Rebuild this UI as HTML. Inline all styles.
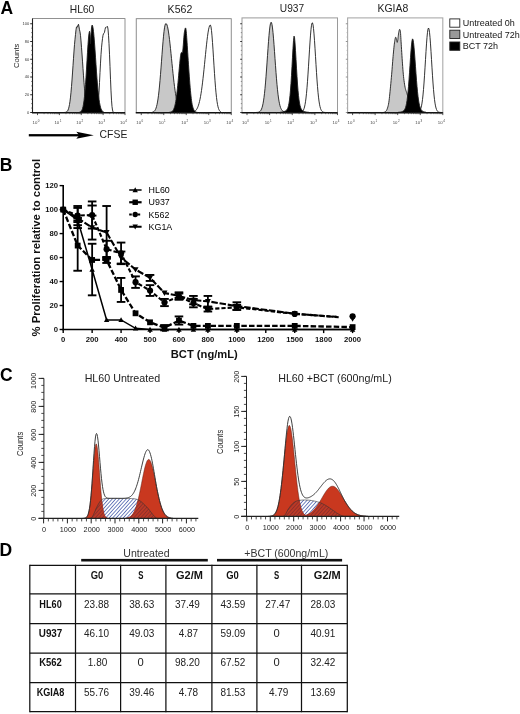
<!DOCTYPE html>
<html><head><meta charset="utf-8"><title>Figure</title>
<style>
html,body{margin:0;padding:0;background:#fff;}
svg{display:block;font-family:"Liberation Sans", sans-serif;will-change:transform;transform:translateZ(0);}
</style></head><body>
<svg width="520" height="714" viewBox="0 0 520 714">
<rect width="520" height="714" fill="#fff"/>
<rect x="32.5" y="18.6" width="92.5" height="93.9" fill="#fff" stroke="#777" stroke-width="0.8"/>
<path d="M94.00,112.50 L94.00,112.50 L94.50,112.50 L95.00,112.50 L95.50,112.49 L96.00,112.43 L96.50,112.21 L97.00,111.48 L97.50,109.67 L98.00,106.07 L98.50,100.18 L99.00,92.08 L99.50,82.48 L100.00,72.46 L100.50,63.13 L101.00,54.55 L101.50,47.84 L102.00,42.84 L102.50,38.67 L103.00,35.31 L103.50,33.69 L104.00,33.40 L104.50,32.27 L105.00,29.62 L105.50,27.46 L106.00,27.08 L106.50,27.14 L107.00,26.54 L107.50,26.54 L108.00,29.09 L108.50,35.26 L109.00,43.69 L109.50,54.23 L110.00,66.46 L110.50,79.21 L111.00,90.89 L111.50,100.17 L112.00,106.46 L112.50,110.03 L113.00,111.68 L113.50,112.29 L114.00,112.46 L114.50,112.49 L115.00,112.50 L115.50,112.50 L116.00,112.50 L116.00,112.50Z" fill="#fff" stroke="#1c1c1c" stroke-width="0.9" stroke-linejoin="round"/>
<path d="M64.00,112.50 L64.00,112.48 L64.50,112.46 L65.00,112.42 L65.50,112.34 L66.00,112.20 L66.50,111.97 L67.00,111.59 L67.50,111.00 L68.00,110.10 L68.50,108.78 L69.00,106.94 L69.50,104.45 L70.00,101.21 L70.50,97.14 L71.00,92.21 L71.50,86.46 L72.00,79.98 L72.50,72.97 L73.00,65.67 L73.50,58.29 L74.00,51.02 L74.50,44.50 L75.00,39.23 L75.50,34.49 L76.00,29.76 L76.50,26.88 L77.00,26.99 L77.50,27.03 L78.00,25.05 L78.50,24.29 L79.00,26.84 L79.50,29.79 L80.00,31.89 L80.50,35.33 L81.00,40.90 L81.50,47.34 L82.00,54.03 L82.50,61.16 L83.00,68.56 L83.50,75.83 L84.00,82.65 L84.50,88.85 L85.00,94.28 L85.50,98.87 L86.00,102.60 L86.50,105.53 L87.00,107.75 L87.50,109.37 L88.00,110.50 L88.50,111.27 L89.00,111.77 L89.50,112.08 L90.00,112.27 L90.50,112.38 L91.00,112.44 L91.50,112.47 L92.00,112.49 L92.00,112.50Z" fill="#c8c8c8" stroke="#1c1c1c" stroke-width="0.9" stroke-linejoin="round"/>
<path d="M79.00,112.50 L79.00,112.38 L79.50,112.28 L80.00,112.12 L80.50,111.87 L81.00,111.46 L81.50,110.84 L82.00,109.92 L82.50,108.58 L83.00,106.69 L83.50,104.12 L84.00,100.71 L84.50,96.36 L85.00,90.97 L85.50,84.55 L86.00,77.19 L86.50,69.11 L87.00,60.63 L87.50,52.24 L88.00,44.50 L88.50,38.02 L89.00,33.42 L89.50,31.27 L90.00,34.07 L90.50,43.74 L91.00,34.46 L91.50,27.93 L92.00,25.08 L92.50,25.55 L93.00,27.77 L93.50,31.55 L94.00,36.68 L94.50,42.88 L95.00,49.82 L95.50,57.19 L96.00,64.64 L96.50,71.91 L97.00,78.75 L97.50,84.99 L98.00,90.51 L98.50,95.27 L99.00,99.27 L99.50,102.54 L100.00,105.14 L100.50,107.18 L101.00,108.72 L101.50,109.87 L102.00,110.71 L102.50,111.30 L103.00,111.72 L103.50,112.00 L104.00,112.18 L104.00,112.50Z" fill="#000" stroke="#1c1c1c" stroke-width="0.9" stroke-linejoin="round"/>
<line x1="32.50" y1="18.60" x2="32.50" y2="113.00" stroke="#222" stroke-width="1.1" />
<line x1="32.00" y1="112.80" x2="125.00" y2="112.80" stroke="#111" stroke-width="1.5" />
<text x="69.80" y="13.00" font-size="10.3" text-anchor="start" fill="#222" textLength="24.50" lengthAdjust="spacingAndGlyphs" >HL60</text>
<line x1="37.50" y1="112.50" x2="37.50" y2="115.10" stroke="#222" stroke-width="0.8" />
<line x1="44.09" y1="112.50" x2="44.09" y2="114.20" stroke="#333" stroke-width="0.6" />
<line x1="47.94" y1="112.50" x2="47.94" y2="114.20" stroke="#333" stroke-width="0.6" />
<line x1="50.67" y1="112.50" x2="50.67" y2="114.20" stroke="#333" stroke-width="0.6" />
<line x1="52.79" y1="112.50" x2="52.79" y2="114.20" stroke="#333" stroke-width="0.6" />
<line x1="54.52" y1="112.50" x2="54.52" y2="114.20" stroke="#333" stroke-width="0.6" />
<line x1="55.99" y1="112.50" x2="55.99" y2="114.20" stroke="#333" stroke-width="0.6" />
<line x1="57.26" y1="112.50" x2="57.26" y2="114.20" stroke="#333" stroke-width="0.6" />
<line x1="58.37" y1="112.50" x2="58.37" y2="114.20" stroke="#333" stroke-width="0.6" />
<text x="34.90" y="124.20" font-size="4.3" text-anchor="middle" fill="#444" >10</text>
<text x="38.70" y="122.20" font-size="3.0" text-anchor="middle" fill="#444" >0</text>
<line x1="59.38" y1="112.50" x2="59.38" y2="115.10" stroke="#222" stroke-width="0.8" />
<line x1="65.96" y1="112.50" x2="65.96" y2="114.20" stroke="#333" stroke-width="0.6" />
<line x1="69.81" y1="112.50" x2="69.81" y2="114.20" stroke="#333" stroke-width="0.6" />
<line x1="72.55" y1="112.50" x2="72.55" y2="114.20" stroke="#333" stroke-width="0.6" />
<line x1="74.66" y1="112.50" x2="74.66" y2="114.20" stroke="#333" stroke-width="0.6" />
<line x1="76.40" y1="112.50" x2="76.40" y2="114.20" stroke="#333" stroke-width="0.6" />
<line x1="77.86" y1="112.50" x2="77.86" y2="114.20" stroke="#333" stroke-width="0.6" />
<line x1="79.13" y1="112.50" x2="79.13" y2="114.20" stroke="#333" stroke-width="0.6" />
<line x1="80.25" y1="112.50" x2="80.25" y2="114.20" stroke="#333" stroke-width="0.6" />
<text x="56.77" y="124.20" font-size="4.3" text-anchor="middle" fill="#444" >10</text>
<text x="60.58" y="122.20" font-size="3.0" text-anchor="middle" fill="#444" >1</text>
<line x1="81.25" y1="112.50" x2="81.25" y2="115.10" stroke="#222" stroke-width="0.8" />
<line x1="87.84" y1="112.50" x2="87.84" y2="114.20" stroke="#333" stroke-width="0.6" />
<line x1="91.69" y1="112.50" x2="91.69" y2="114.20" stroke="#333" stroke-width="0.6" />
<line x1="94.42" y1="112.50" x2="94.42" y2="114.20" stroke="#333" stroke-width="0.6" />
<line x1="96.54" y1="112.50" x2="96.54" y2="114.20" stroke="#333" stroke-width="0.6" />
<line x1="98.27" y1="112.50" x2="98.27" y2="114.20" stroke="#333" stroke-width="0.6" />
<line x1="99.74" y1="112.50" x2="99.74" y2="114.20" stroke="#333" stroke-width="0.6" />
<line x1="101.01" y1="112.50" x2="101.01" y2="114.20" stroke="#333" stroke-width="0.6" />
<line x1="102.12" y1="112.50" x2="102.12" y2="114.20" stroke="#333" stroke-width="0.6" />
<text x="78.65" y="124.20" font-size="4.3" text-anchor="middle" fill="#444" >10</text>
<text x="82.45" y="122.20" font-size="3.0" text-anchor="middle" fill="#444" >2</text>
<line x1="103.12" y1="112.50" x2="103.12" y2="115.10" stroke="#222" stroke-width="0.8" />
<line x1="109.71" y1="112.50" x2="109.71" y2="114.20" stroke="#333" stroke-width="0.6" />
<line x1="113.56" y1="112.50" x2="113.56" y2="114.20" stroke="#333" stroke-width="0.6" />
<line x1="116.30" y1="112.50" x2="116.30" y2="114.20" stroke="#333" stroke-width="0.6" />
<line x1="118.41" y1="112.50" x2="118.41" y2="114.20" stroke="#333" stroke-width="0.6" />
<line x1="120.15" y1="112.50" x2="120.15" y2="114.20" stroke="#333" stroke-width="0.6" />
<line x1="121.61" y1="112.50" x2="121.61" y2="114.20" stroke="#333" stroke-width="0.6" />
<line x1="122.88" y1="112.50" x2="122.88" y2="114.20" stroke="#333" stroke-width="0.6" />
<line x1="124.00" y1="112.50" x2="124.00" y2="114.20" stroke="#333" stroke-width="0.6" />
<text x="100.53" y="124.20" font-size="4.3" text-anchor="middle" fill="#444" >10</text>
<text x="104.33" y="122.20" font-size="3.0" text-anchor="middle" fill="#444" >3</text>
<line x1="125.00" y1="112.50" x2="125.00" y2="115.10" stroke="#222" stroke-width="0.8" />
<text x="122.40" y="124.20" font-size="4.3" text-anchor="middle" fill="#444" >10</text>
<text x="126.20" y="122.20" font-size="3.0" text-anchor="middle" fill="#444" >4</text>
<line x1="30.20" y1="112.50" x2="32.50" y2="112.50" stroke="#111" stroke-width="0.9" />
<line x1="31.10" y1="108.06" x2="32.50" y2="108.06" stroke="#333" stroke-width="0.6" />
<line x1="31.10" y1="103.62" x2="32.50" y2="103.62" stroke="#333" stroke-width="0.6" />
<line x1="31.10" y1="99.19" x2="32.50" y2="99.19" stroke="#333" stroke-width="0.6" />
<text x="29.30" y="113.90" font-size="4.0" text-anchor="end" fill="#333" >0</text>
<line x1="30.20" y1="94.75" x2="32.50" y2="94.75" stroke="#111" stroke-width="0.9" />
<line x1="31.10" y1="90.31" x2="32.50" y2="90.31" stroke="#333" stroke-width="0.6" />
<line x1="31.10" y1="85.88" x2="32.50" y2="85.88" stroke="#333" stroke-width="0.6" />
<line x1="31.10" y1="81.44" x2="32.50" y2="81.44" stroke="#333" stroke-width="0.6" />
<text x="29.30" y="96.15" font-size="4.0" text-anchor="end" fill="#333" >20</text>
<line x1="30.20" y1="77.00" x2="32.50" y2="77.00" stroke="#111" stroke-width="0.9" />
<line x1="31.10" y1="72.56" x2="32.50" y2="72.56" stroke="#333" stroke-width="0.6" />
<line x1="31.10" y1="68.12" x2="32.50" y2="68.12" stroke="#333" stroke-width="0.6" />
<line x1="31.10" y1="63.69" x2="32.50" y2="63.69" stroke="#333" stroke-width="0.6" />
<text x="29.30" y="78.40" font-size="4.0" text-anchor="end" fill="#333" >40</text>
<line x1="30.20" y1="59.25" x2="32.50" y2="59.25" stroke="#111" stroke-width="0.9" />
<line x1="31.10" y1="54.81" x2="32.50" y2="54.81" stroke="#333" stroke-width="0.6" />
<line x1="31.10" y1="50.38" x2="32.50" y2="50.38" stroke="#333" stroke-width="0.6" />
<line x1="31.10" y1="45.94" x2="32.50" y2="45.94" stroke="#333" stroke-width="0.6" />
<text x="29.30" y="60.65" font-size="4.0" text-anchor="end" fill="#333" >60</text>
<line x1="30.20" y1="41.50" x2="32.50" y2="41.50" stroke="#111" stroke-width="0.9" />
<line x1="31.10" y1="37.06" x2="32.50" y2="37.06" stroke="#333" stroke-width="0.6" />
<line x1="31.10" y1="32.62" x2="32.50" y2="32.62" stroke="#333" stroke-width="0.6" />
<line x1="31.10" y1="28.19" x2="32.50" y2="28.19" stroke="#333" stroke-width="0.6" />
<text x="29.30" y="42.90" font-size="4.0" text-anchor="end" fill="#333" >80</text>
<line x1="30.20" y1="23.75" x2="32.50" y2="23.75" stroke="#111" stroke-width="0.9" />
<text x="29.30" y="25.15" font-size="4.0" text-anchor="end" fill="#333" >100</text>
<rect x="136.25" y="18.7" width="95.0" height="93.8" fill="#fff" stroke="#808080" stroke-width="0.9"/>
<path d="M192.00,112.50 L192.00,112.27 L192.50,112.19 L193.00,112.08 L193.50,111.92 L194.00,111.73 L194.50,111.47 L195.00,111.14 L195.50,110.73 L196.00,110.20 L196.50,109.55 L197.00,108.75 L197.50,107.76 L198.00,106.58 L198.50,105.16 L199.00,103.49 L199.50,101.53 L200.00,99.26 L200.50,96.67 L201.00,93.73 L201.50,90.45 L202.00,86.83 L202.50,82.87 L203.00,78.61 L203.50,74.08 L204.00,69.33 L204.50,64.42 L205.00,59.43 L205.50,54.44 L206.00,49.54 L206.50,44.83 L207.00,40.42 L207.50,36.40 L208.00,32.86 L208.50,29.90 L209.00,27.59 L209.50,25.99 L210.00,25.14 L210.50,25.16 L211.00,26.95 L211.50,30.60 L212.00,35.87 L212.50,42.44 L213.00,49.89 L213.50,57.82 L214.00,65.83 L214.50,73.57 L215.00,80.77 L215.50,87.22 L216.00,92.81 L216.50,97.52 L217.00,101.36 L217.50,104.40 L218.00,106.75 L218.50,108.51 L219.00,109.79 L219.50,110.70 L220.00,111.34 L220.50,111.76 L221.00,112.04 L221.00,112.50Z" fill="#fff" stroke="#1c1c1c" stroke-width="0.9" stroke-linejoin="round"/>
<path d="M152.00,112.50 L152.00,112.31 L152.50,112.21 L153.00,112.05 L153.50,111.81 L154.00,111.47 L154.50,110.98 L155.00,110.31 L155.50,109.40 L156.00,108.19 L156.50,106.61 L157.00,104.59 L157.50,102.07 L158.00,98.98 L158.50,95.28 L159.00,90.95 L159.50,85.99 L160.00,80.43 L160.50,74.37 L161.00,67.91 L161.50,61.22 L162.00,54.49 L162.50,47.93 L163.00,41.77 L163.50,36.23 L164.00,31.53 L164.50,27.82 L165.00,25.23 L165.50,23.82 L166.00,23.51 L166.50,23.91 L167.00,24.95 L167.50,26.65 L168.00,29.00 L168.50,31.96 L169.00,35.47 L169.50,39.47 L170.00,43.86 L170.50,48.57 L171.00,53.48 L171.50,58.52 L172.00,63.58 L172.50,68.57 L173.00,73.42 L173.50,78.06 L174.00,82.44 L174.50,86.51 L175.00,90.24 L175.50,93.62 L176.00,96.65 L176.50,99.31 L177.00,101.64 L177.50,103.64 L178.00,105.35 L178.50,106.78 L179.00,107.97 L179.50,108.95 L180.00,109.75 L180.50,110.39 L181.00,110.89 L181.50,111.29 L182.00,111.60 L182.00,112.50Z" fill="#c8c8c8" stroke="#1c1c1c" stroke-width="0.9" stroke-linejoin="round"/>
<path d="M168.46,112.54 L168.71,112.48 L169.06,112.41 L169.47,112.33 L169.91,112.22 L170.36,112.09 L170.77,111.92 L171.15,111.78 L171.54,111.68 L171.92,111.55 L172.31,111.33 L172.69,110.96 L173.08,110.38 L173.47,109.63 L173.86,108.76 L174.25,107.74 L174.64,106.54 L175.02,105.12 L175.38,103.46 L175.74,101.53 L176.08,99.36 L176.41,96.97 L176.74,94.40 L177.06,91.68 L177.38,88.85 L177.71,85.75 L178.03,82.34 L178.35,78.78 L178.66,75.23 L178.95,71.87 L179.23,68.85 L179.49,66.09 L179.74,63.46 L179.98,61.01 L180.21,58.79 L180.42,56.88 L180.62,55.31 L180.80,54.17 L180.96,53.44 L181.11,53.00 L181.25,52.75 L181.39,52.58 L181.54,52.38 L181.69,52.29 L181.85,52.41 L182.01,52.62 L182.17,52.77 L182.32,52.73 L182.46,52.38 L182.60,51.72 L182.72,50.85 L182.85,49.80 L182.97,48.58 L183.10,47.23 L183.23,45.77 L183.38,44.06 L183.53,42.06 L183.68,39.92 L183.84,37.80 L184.00,35.85 L184.15,34.23 L184.31,32.92 L184.48,31.81 L184.64,30.87 L184.80,30.07 L184.95,29.41 L185.08,28.85 L185.18,28.42 L185.26,28.13 L185.33,27.98 L185.39,27.93 L185.46,27.97 L185.54,28.08 L185.63,28.17 L185.72,28.25 L185.82,28.41 L185.92,28.76 L186.03,29.39 L186.15,30.38 L186.28,31.75 L186.42,33.40 L186.57,35.34 L186.72,37.54 L186.89,39.99 L187.08,42.69 L187.28,45.73 L187.49,49.13 L187.72,52.79 L187.96,56.60 L188.21,60.45 L188.46,64.23 L188.73,68.08 L189.00,72.09 L189.29,76.15 L189.58,80.13 L189.87,83.89 L190.15,87.31 L190.43,90.41 L190.71,93.31 L190.98,95.99 L191.26,98.45 L191.55,100.69 L191.85,102.69 L192.16,104.43 L192.49,105.90 L192.83,107.14 L193.17,108.20 L193.51,109.12 L193.85,109.92 L194.18,110.58 L194.51,111.03 L194.84,111.34 L195.17,111.55 L195.50,111.73 L195.85,111.92 L196.22,112.11 L196.63,112.25 L197.05,112.36 L197.44,112.43 L197.76,112.49 L198.00,112.54Z" fill="#000" stroke="#1c1c1c" stroke-width="0.9" stroke-linejoin="round"/>
<line x1="135.75" y1="112.80" x2="231.25" y2="112.80" stroke="#111" stroke-width="1.5" />
<text x="167.60" y="13.40" font-size="10.3" text-anchor="start" fill="#222" textLength="24.70" lengthAdjust="spacingAndGlyphs" >K562</text>
<line x1="141.25" y1="112.50" x2="141.25" y2="115.10" stroke="#222" stroke-width="0.8" />
<line x1="148.02" y1="112.50" x2="148.02" y2="114.20" stroke="#333" stroke-width="0.6" />
<line x1="151.99" y1="112.50" x2="151.99" y2="114.20" stroke="#333" stroke-width="0.6" />
<line x1="154.80" y1="112.50" x2="154.80" y2="114.20" stroke="#333" stroke-width="0.6" />
<line x1="156.98" y1="112.50" x2="156.98" y2="114.20" stroke="#333" stroke-width="0.6" />
<line x1="158.76" y1="112.50" x2="158.76" y2="114.20" stroke="#333" stroke-width="0.6" />
<line x1="160.26" y1="112.50" x2="160.26" y2="114.20" stroke="#333" stroke-width="0.6" />
<line x1="161.57" y1="112.50" x2="161.57" y2="114.20" stroke="#333" stroke-width="0.6" />
<line x1="162.72" y1="112.50" x2="162.72" y2="114.20" stroke="#333" stroke-width="0.6" />
<text x="138.65" y="124.20" font-size="4.3" text-anchor="middle" fill="#444" >10</text>
<text x="142.45" y="122.20" font-size="3.0" text-anchor="middle" fill="#444" >0</text>
<line x1="163.75" y1="112.50" x2="163.75" y2="115.10" stroke="#222" stroke-width="0.8" />
<line x1="170.52" y1="112.50" x2="170.52" y2="114.20" stroke="#333" stroke-width="0.6" />
<line x1="174.49" y1="112.50" x2="174.49" y2="114.20" stroke="#333" stroke-width="0.6" />
<line x1="177.30" y1="112.50" x2="177.30" y2="114.20" stroke="#333" stroke-width="0.6" />
<line x1="179.48" y1="112.50" x2="179.48" y2="114.20" stroke="#333" stroke-width="0.6" />
<line x1="181.26" y1="112.50" x2="181.26" y2="114.20" stroke="#333" stroke-width="0.6" />
<line x1="182.76" y1="112.50" x2="182.76" y2="114.20" stroke="#333" stroke-width="0.6" />
<line x1="184.07" y1="112.50" x2="184.07" y2="114.20" stroke="#333" stroke-width="0.6" />
<line x1="185.22" y1="112.50" x2="185.22" y2="114.20" stroke="#333" stroke-width="0.6" />
<text x="161.15" y="124.20" font-size="4.3" text-anchor="middle" fill="#444" >10</text>
<text x="164.95" y="122.20" font-size="3.0" text-anchor="middle" fill="#444" >1</text>
<line x1="186.25" y1="112.50" x2="186.25" y2="115.10" stroke="#222" stroke-width="0.8" />
<line x1="193.02" y1="112.50" x2="193.02" y2="114.20" stroke="#333" stroke-width="0.6" />
<line x1="196.99" y1="112.50" x2="196.99" y2="114.20" stroke="#333" stroke-width="0.6" />
<line x1="199.80" y1="112.50" x2="199.80" y2="114.20" stroke="#333" stroke-width="0.6" />
<line x1="201.98" y1="112.50" x2="201.98" y2="114.20" stroke="#333" stroke-width="0.6" />
<line x1="203.76" y1="112.50" x2="203.76" y2="114.20" stroke="#333" stroke-width="0.6" />
<line x1="205.26" y1="112.50" x2="205.26" y2="114.20" stroke="#333" stroke-width="0.6" />
<line x1="206.57" y1="112.50" x2="206.57" y2="114.20" stroke="#333" stroke-width="0.6" />
<line x1="207.72" y1="112.50" x2="207.72" y2="114.20" stroke="#333" stroke-width="0.6" />
<text x="183.65" y="124.20" font-size="4.3" text-anchor="middle" fill="#444" >10</text>
<text x="187.45" y="122.20" font-size="3.0" text-anchor="middle" fill="#444" >2</text>
<line x1="208.75" y1="112.50" x2="208.75" y2="115.10" stroke="#222" stroke-width="0.8" />
<line x1="215.52" y1="112.50" x2="215.52" y2="114.20" stroke="#333" stroke-width="0.6" />
<line x1="219.49" y1="112.50" x2="219.49" y2="114.20" stroke="#333" stroke-width="0.6" />
<line x1="222.30" y1="112.50" x2="222.30" y2="114.20" stroke="#333" stroke-width="0.6" />
<line x1="224.48" y1="112.50" x2="224.48" y2="114.20" stroke="#333" stroke-width="0.6" />
<line x1="226.26" y1="112.50" x2="226.26" y2="114.20" stroke="#333" stroke-width="0.6" />
<line x1="227.76" y1="112.50" x2="227.76" y2="114.20" stroke="#333" stroke-width="0.6" />
<line x1="229.07" y1="112.50" x2="229.07" y2="114.20" stroke="#333" stroke-width="0.6" />
<line x1="230.22" y1="112.50" x2="230.22" y2="114.20" stroke="#333" stroke-width="0.6" />
<text x="206.15" y="124.20" font-size="4.3" text-anchor="middle" fill="#444" >10</text>
<text x="209.95" y="122.20" font-size="3.0" text-anchor="middle" fill="#444" >3</text>
<line x1="231.25" y1="112.50" x2="231.25" y2="115.10" stroke="#222" stroke-width="0.8" />
<text x="228.65" y="124.20" font-size="4.3" text-anchor="middle" fill="#444" >10</text>
<text x="232.45" y="122.20" font-size="3.0" text-anchor="middle" fill="#444" >4</text>
<rect x="242.0" y="17.9" width="95.5" height="94.6" fill="#fff" stroke="#9a9a9a" stroke-width="1.0"/>
<path d="M300.00,112.50 L300.00,112.41 L300.50,112.35 L301.00,112.24 L301.50,112.08 L302.00,111.81 L302.50,111.41 L303.00,110.81 L303.50,109.93 L304.00,108.70 L304.50,107.00 L305.00,104.73 L305.50,101.75 L306.00,97.98 L306.50,93.34 L307.00,87.77 L307.50,81.32 L308.00,74.08 L308.50,66.23 L309.00,58.03 L309.50,49.85 L310.00,42.06 L310.50,35.11 L311.00,29.40 L311.50,25.30 L312.00,23.07 L312.50,22.86 L313.00,24.70 L313.50,28.45 L314.00,33.86 L314.50,40.59 L315.00,48.24 L315.50,56.38 L316.00,64.60 L316.50,72.55 L317.00,79.93 L317.50,86.55 L318.00,92.30 L318.50,97.13 L319.00,101.07 L319.50,104.19 L320.00,106.60 L320.50,108.40 L321.00,109.72 L321.50,110.66 L322.00,111.31 L322.50,111.74 L323.00,112.03 L323.50,112.22 L324.00,112.33 L324.50,112.40 L325.00,112.45 L325.50,112.47 L326.00,112.48 L326.00,112.50Z" fill="#fff" stroke="#1c1c1c" stroke-width="0.9" stroke-linejoin="round"/>
<path d="M256.00,112.50 L256.00,112.47 L256.50,112.45 L257.00,112.42 L257.50,112.37 L258.00,112.30 L258.50,112.18 L259.00,112.00 L259.50,111.74 L260.00,111.37 L260.50,110.83 L261.00,110.09 L261.50,109.09 L262.00,107.74 L262.50,105.99 L263.00,103.74 L263.50,100.93 L264.00,97.48 L264.50,93.34 L265.00,88.49 L265.50,82.94 L266.00,76.75 L266.50,70.02 L267.00,62.92 L267.50,55.64 L268.00,48.44 L268.50,41.60 L269.00,35.41 L269.50,30.15 L270.00,26.07 L270.50,23.38 L271.00,22.23 L271.50,22.64 L272.00,24.58 L272.50,27.94 L273.00,32.55 L273.50,38.18 L274.00,44.59 L274.50,51.48 L275.00,58.58 L275.50,65.65 L276.00,72.45 L276.50,78.81 L277.00,84.61 L277.50,89.76 L278.00,94.23 L278.50,98.02 L279.00,101.17 L279.50,103.73 L280.00,105.77 L280.50,107.37 L281.00,108.60 L281.50,109.53 L282.00,110.23 L282.50,110.75 L283.00,111.13 L283.50,111.41 L284.00,111.61 L284.50,111.76 L285.00,111.88 L285.50,111.97 L286.00,112.05 L286.50,112.11 L287.00,112.16 L287.50,112.21 L288.00,112.25 L288.50,112.28 L289.00,112.31 L289.50,112.34 L290.00,112.36 L290.50,112.39 L291.00,112.40 L291.50,112.42 L292.00,112.43 L292.00,112.50Z" fill="#c8c8c8" stroke="#1c1c1c" stroke-width="0.9" stroke-linejoin="round"/>
<path d="M280.00,112.50 L280.00,112.26 L280.50,112.21 L281.00,112.16 L281.50,112.09 L282.00,112.01 L282.50,111.92 L283.00,111.81 L283.50,111.69 L284.00,111.55 L284.50,111.39 L285.00,111.19 L285.50,110.93 L286.00,110.60 L286.50,110.14 L287.00,109.52 L287.50,108.63 L288.00,107.38 L288.50,105.63 L289.00,103.21 L289.50,99.93 L290.00,95.61 L290.50,90.10 L291.00,83.33 L291.50,75.37 L292.00,66.49 L292.50,57.18 L293.00,48.23 L293.50,40.72 L294.00,36.13 L294.50,37.36 L295.00,42.90 L295.50,50.60 L296.00,59.32 L296.50,68.17 L297.00,76.54 L297.50,84.02 L298.00,90.41 L298.50,95.65 L299.00,99.81 L299.50,103.02 L300.00,105.43 L300.50,107.21 L301.00,108.49 L301.50,109.42 L302.00,110.09 L302.50,110.57 L303.00,110.93 L303.50,111.21 L304.00,111.42 L304.50,111.59 L305.00,111.73 L305.50,111.85 L306.00,111.95 L306.50,112.04 L307.00,112.11 L307.50,112.18 L308.00,112.23 L308.50,112.28 L309.00,112.32 L309.00,112.50Z" fill="#000" stroke="#1c1c1c" stroke-width="0.9" stroke-linejoin="round"/>
<line x1="241.50" y1="112.80" x2="337.50" y2="112.80" stroke="#111" stroke-width="1.5" />
<text x="279.80" y="11.90" font-size="10.3" text-anchor="start" fill="#222" textLength="24.30" lengthAdjust="spacingAndGlyphs" >U937</text>
<line x1="247.00" y1="112.50" x2="247.00" y2="115.10" stroke="#222" stroke-width="0.8" />
<line x1="253.81" y1="112.50" x2="253.81" y2="114.20" stroke="#333" stroke-width="0.6" />
<line x1="257.79" y1="112.50" x2="257.79" y2="114.20" stroke="#333" stroke-width="0.6" />
<line x1="260.62" y1="112.50" x2="260.62" y2="114.20" stroke="#333" stroke-width="0.6" />
<line x1="262.81" y1="112.50" x2="262.81" y2="114.20" stroke="#333" stroke-width="0.6" />
<line x1="264.61" y1="112.50" x2="264.61" y2="114.20" stroke="#333" stroke-width="0.6" />
<line x1="266.12" y1="112.50" x2="266.12" y2="114.20" stroke="#333" stroke-width="0.6" />
<line x1="267.43" y1="112.50" x2="267.43" y2="114.20" stroke="#333" stroke-width="0.6" />
<line x1="268.59" y1="112.50" x2="268.59" y2="114.20" stroke="#333" stroke-width="0.6" />
<text x="244.40" y="124.20" font-size="4.3" text-anchor="middle" fill="#444" >10</text>
<text x="248.20" y="122.20" font-size="3.0" text-anchor="middle" fill="#444" >0</text>
<line x1="269.62" y1="112.50" x2="269.62" y2="115.10" stroke="#222" stroke-width="0.8" />
<line x1="276.44" y1="112.50" x2="276.44" y2="114.20" stroke="#333" stroke-width="0.6" />
<line x1="280.42" y1="112.50" x2="280.42" y2="114.20" stroke="#333" stroke-width="0.6" />
<line x1="283.25" y1="112.50" x2="283.25" y2="114.20" stroke="#333" stroke-width="0.6" />
<line x1="285.44" y1="112.50" x2="285.44" y2="114.20" stroke="#333" stroke-width="0.6" />
<line x1="287.23" y1="112.50" x2="287.23" y2="114.20" stroke="#333" stroke-width="0.6" />
<line x1="288.75" y1="112.50" x2="288.75" y2="114.20" stroke="#333" stroke-width="0.6" />
<line x1="290.06" y1="112.50" x2="290.06" y2="114.20" stroke="#333" stroke-width="0.6" />
<line x1="291.21" y1="112.50" x2="291.21" y2="114.20" stroke="#333" stroke-width="0.6" />
<text x="267.02" y="124.20" font-size="4.3" text-anchor="middle" fill="#444" >10</text>
<text x="270.82" y="122.20" font-size="3.0" text-anchor="middle" fill="#444" >1</text>
<line x1="292.25" y1="112.50" x2="292.25" y2="115.10" stroke="#222" stroke-width="0.8" />
<line x1="299.06" y1="112.50" x2="299.06" y2="114.20" stroke="#333" stroke-width="0.6" />
<line x1="303.04" y1="112.50" x2="303.04" y2="114.20" stroke="#333" stroke-width="0.6" />
<line x1="305.87" y1="112.50" x2="305.87" y2="114.20" stroke="#333" stroke-width="0.6" />
<line x1="308.06" y1="112.50" x2="308.06" y2="114.20" stroke="#333" stroke-width="0.6" />
<line x1="309.86" y1="112.50" x2="309.86" y2="114.20" stroke="#333" stroke-width="0.6" />
<line x1="311.37" y1="112.50" x2="311.37" y2="114.20" stroke="#333" stroke-width="0.6" />
<line x1="312.68" y1="112.50" x2="312.68" y2="114.20" stroke="#333" stroke-width="0.6" />
<line x1="313.84" y1="112.50" x2="313.84" y2="114.20" stroke="#333" stroke-width="0.6" />
<text x="289.65" y="124.20" font-size="4.3" text-anchor="middle" fill="#444" >10</text>
<text x="293.45" y="122.20" font-size="3.0" text-anchor="middle" fill="#444" >2</text>
<line x1="314.88" y1="112.50" x2="314.88" y2="115.10" stroke="#222" stroke-width="0.8" />
<line x1="321.69" y1="112.50" x2="321.69" y2="114.20" stroke="#333" stroke-width="0.6" />
<line x1="325.67" y1="112.50" x2="325.67" y2="114.20" stroke="#333" stroke-width="0.6" />
<line x1="328.50" y1="112.50" x2="328.50" y2="114.20" stroke="#333" stroke-width="0.6" />
<line x1="330.69" y1="112.50" x2="330.69" y2="114.20" stroke="#333" stroke-width="0.6" />
<line x1="332.48" y1="112.50" x2="332.48" y2="114.20" stroke="#333" stroke-width="0.6" />
<line x1="334.00" y1="112.50" x2="334.00" y2="114.20" stroke="#333" stroke-width="0.6" />
<line x1="335.31" y1="112.50" x2="335.31" y2="114.20" stroke="#333" stroke-width="0.6" />
<line x1="336.46" y1="112.50" x2="336.46" y2="114.20" stroke="#333" stroke-width="0.6" />
<text x="312.27" y="124.20" font-size="4.3" text-anchor="middle" fill="#444" >10</text>
<text x="316.07" y="122.20" font-size="3.0" text-anchor="middle" fill="#444" >3</text>
<line x1="337.50" y1="112.50" x2="337.50" y2="115.10" stroke="#222" stroke-width="0.8" />
<text x="334.90" y="124.20" font-size="4.3" text-anchor="middle" fill="#444" >10</text>
<text x="338.70" y="122.20" font-size="3.0" text-anchor="middle" fill="#444" >4</text>
<line x1="240.20" y1="112.50" x2="242.00" y2="112.50" stroke="#222" stroke-width="0.9" />
<line x1="240.80" y1="108.06" x2="242.00" y2="108.06" stroke="#555" stroke-width="0.6" />
<line x1="240.80" y1="103.62" x2="242.00" y2="103.62" stroke="#555" stroke-width="0.6" />
<line x1="240.80" y1="99.19" x2="242.00" y2="99.19" stroke="#555" stroke-width="0.6" />
<line x1="240.20" y1="94.75" x2="242.00" y2="94.75" stroke="#222" stroke-width="0.9" />
<line x1="240.80" y1="90.31" x2="242.00" y2="90.31" stroke="#555" stroke-width="0.6" />
<line x1="240.80" y1="85.88" x2="242.00" y2="85.88" stroke="#555" stroke-width="0.6" />
<line x1="240.80" y1="81.44" x2="242.00" y2="81.44" stroke="#555" stroke-width="0.6" />
<line x1="240.20" y1="77.00" x2="242.00" y2="77.00" stroke="#222" stroke-width="0.9" />
<line x1="240.80" y1="72.56" x2="242.00" y2="72.56" stroke="#555" stroke-width="0.6" />
<line x1="240.80" y1="68.12" x2="242.00" y2="68.12" stroke="#555" stroke-width="0.6" />
<line x1="240.80" y1="63.69" x2="242.00" y2="63.69" stroke="#555" stroke-width="0.6" />
<line x1="240.20" y1="59.25" x2="242.00" y2="59.25" stroke="#222" stroke-width="0.9" />
<line x1="240.80" y1="54.81" x2="242.00" y2="54.81" stroke="#555" stroke-width="0.6" />
<line x1="240.80" y1="50.38" x2="242.00" y2="50.38" stroke="#555" stroke-width="0.6" />
<line x1="240.80" y1="45.94" x2="242.00" y2="45.94" stroke="#555" stroke-width="0.6" />
<line x1="240.20" y1="41.50" x2="242.00" y2="41.50" stroke="#222" stroke-width="0.9" />
<line x1="240.80" y1="37.06" x2="242.00" y2="37.06" stroke="#555" stroke-width="0.6" />
<line x1="240.80" y1="32.62" x2="242.00" y2="32.62" stroke="#555" stroke-width="0.6" />
<line x1="240.80" y1="28.19" x2="242.00" y2="28.19" stroke="#555" stroke-width="0.6" />
<line x1="240.20" y1="23.75" x2="242.00" y2="23.75" stroke="#222" stroke-width="0.9" />
<rect x="347.6" y="17.9" width="95.19999999999999" height="94.6" fill="#fff" stroke="#aaa" stroke-width="1.1"/>
<path d="M417.00,112.50 L417.00,112.41 L417.50,112.34 L418.00,112.23 L418.50,112.04 L419.00,111.73 L419.50,111.25 L420.00,110.53 L420.50,109.48 L421.00,107.97 L421.50,105.90 L422.00,103.12 L422.50,99.52 L423.00,94.99 L423.50,89.49 L424.00,83.04 L424.50,75.74 L425.00,67.83 L425.50,59.60 L426.00,51.46 L426.50,43.88 L427.00,37.33 L427.50,32.28 L428.00,29.09 L428.50,28.00 L429.00,29.09 L429.50,32.28 L430.00,37.33 L430.50,43.88 L431.00,51.46 L431.50,59.60 L432.00,67.83 L432.50,75.74 L433.00,83.04 L433.50,89.49 L434.00,94.99 L434.50,99.52 L435.00,103.12 L435.50,105.90 L436.00,107.97 L436.50,109.48 L437.00,110.53 L437.50,111.25 L438.00,111.73 L438.50,112.04 L439.00,112.23 L439.50,112.34 L440.00,112.41 L440.50,112.45 L441.00,112.48 L441.50,112.49 L442.00,112.49 L442.00,112.50Z" fill="#fff" stroke="#1c1c1c" stroke-width="0.9" stroke-linejoin="round"/>
<path d="M383.08,112.54 L383.28,112.49 L383.55,112.44 L383.88,112.38 L384.23,112.28 L384.59,112.13 L384.92,111.92 L385.25,111.69 L385.58,111.45 L385.92,111.16 L386.26,110.79 L386.60,110.29 L386.92,109.62 L387.24,108.81 L387.56,107.91 L387.87,106.87 L388.18,105.68 L388.48,104.30 L388.77,102.69 L389.04,100.82 L389.30,98.70 L389.56,96.39 L389.81,93.95 L390.05,91.41 L390.31,88.85 L390.57,86.19 L390.83,83.38 L391.10,80.48 L391.36,77.56 L391.61,74.69 L391.85,71.92 L392.07,69.23 L392.28,66.57 L392.48,63.94 L392.68,61.38 L392.88,58.91 L393.08,56.54 L393.29,54.23 L393.50,51.97 L393.71,49.79 L393.92,47.74 L394.12,45.87 L394.31,44.23 L394.48,42.83 L394.65,41.63 L394.81,40.61 L394.96,39.74 L395.10,39.01 L395.23,38.38 L395.35,37.88 L395.45,37.53 L395.55,37.31 L395.64,37.21 L395.74,37.21 L395.85,37.31 L395.97,37.55 L396.10,37.96 L396.23,38.48 L396.36,39.05 L396.49,39.60 L396.62,40.08 L396.73,40.55 L396.83,41.07 L396.93,41.58 L397.03,42.01 L397.13,42.30 L397.23,42.38 L397.33,42.26 L397.43,41.97 L397.53,41.55 L397.63,41.00 L397.73,40.35 L397.85,39.62 L397.97,38.72 L398.09,37.62 L398.22,36.42 L398.35,35.22 L398.49,34.10 L398.62,33.15 L398.75,32.37 L398.88,31.68 L399.02,31.07 L399.15,30.54 L399.27,30.11 L399.38,29.77 L399.48,29.52 L399.56,29.38 L399.62,29.32 L399.69,29.34 L399.76,29.44 L399.85,29.62 L399.94,29.78 L400.03,29.93 L400.13,30.16 L400.24,30.56 L400.35,31.22 L400.46,32.23 L400.58,33.63 L400.70,35.35 L400.82,37.34 L400.95,39.52 L401.08,41.84 L401.23,44.23 L401.39,46.78 L401.56,49.56 L401.74,52.48 L401.93,55.44 L402.12,58.37 L402.31,61.15 L402.50,63.86 L402.70,66.57 L402.89,69.23 L403.10,71.81 L403.31,74.26 L403.54,76.54 L403.77,78.65 L404.02,80.64 L404.27,82.50 L404.53,84.23 L404.80,85.83 L405.08,87.31 L405.37,88.60 L405.68,89.70 L406.00,90.67 L406.32,91.58 L406.63,92.49 L406.92,93.46 L407.20,94.49 L407.47,95.51 L407.73,96.54 L407.98,97.56 L408.23,98.59 L408.46,99.62 L408.68,100.66 L408.88,101.74 L409.08,102.81 L409.27,103.85 L409.47,104.85 L409.69,105.77 L409.92,106.62 L410.16,107.43 L410.40,108.19 L410.66,108.89 L410.94,109.52 L411.23,110.08 L411.56,110.54 L411.91,110.92 L412.28,111.23 L412.66,111.49 L413.03,111.72 L413.38,111.92 L413.75,112.10 L414.14,112.24 L414.52,112.35 L414.87,112.42 L415.17,112.49 L415.38,112.54Z" fill="#c8c8c8" stroke="#1c1c1c" stroke-width="0.9" stroke-linejoin="round"/>
<path d="M398.00,112.50 L398.00,112.31 L398.50,112.27 L399.00,112.22 L399.50,112.16 L400.00,112.09 L400.50,112.00 L401.00,111.91 L401.50,111.79 L402.00,111.64 L402.50,111.45 L403.00,111.20 L403.50,110.87 L404.00,110.41 L404.50,109.77 L405.00,108.87 L405.50,107.63 L406.00,105.92 L406.50,103.63 L407.00,100.63 L407.50,96.80 L408.00,92.06 L408.50,86.40 L409.00,79.90 L409.50,72.72 L410.00,65.18 L410.50,57.69 L411.00,50.75 L411.50,44.94 L412.00,40.80 L412.50,38.87 L413.00,39.62 L413.50,42.53 L414.00,47.14 L414.50,53.02 L415.00,59.71 L415.50,66.75 L416.00,73.76 L416.50,80.41 L417.00,86.46 L417.50,91.78 L418.00,96.31 L418.50,100.03 L419.00,103.03 L419.50,105.37 L420.00,107.16 L420.50,108.51 L421.00,109.50 L421.50,110.23 L422.00,110.76 L422.50,111.15 L423.00,111.43 L423.50,111.65 L424.00,111.81 L424.50,111.94 L425.00,112.04 L425.50,112.12 L426.00,112.19 L426.00,112.50Z" fill="#000" stroke="#1c1c1c" stroke-width="0.9" stroke-linejoin="round"/>
<line x1="347.10" y1="112.80" x2="442.80" y2="112.80" stroke="#111" stroke-width="1.5" />
<text x="377.50" y="11.90" font-size="10.3" text-anchor="start" fill="#222" textLength="30.80" lengthAdjust="spacingAndGlyphs" >KGIA8</text>
<line x1="352.60" y1="112.50" x2="352.60" y2="115.10" stroke="#222" stroke-width="0.8" />
<line x1="359.39" y1="112.50" x2="359.39" y2="114.20" stroke="#333" stroke-width="0.6" />
<line x1="363.36" y1="112.50" x2="363.36" y2="114.20" stroke="#333" stroke-width="0.6" />
<line x1="366.18" y1="112.50" x2="366.18" y2="114.20" stroke="#333" stroke-width="0.6" />
<line x1="368.36" y1="112.50" x2="368.36" y2="114.20" stroke="#333" stroke-width="0.6" />
<line x1="370.15" y1="112.50" x2="370.15" y2="114.20" stroke="#333" stroke-width="0.6" />
<line x1="371.66" y1="112.50" x2="371.66" y2="114.20" stroke="#333" stroke-width="0.6" />
<line x1="372.96" y1="112.50" x2="372.96" y2="114.20" stroke="#333" stroke-width="0.6" />
<line x1="374.12" y1="112.50" x2="374.12" y2="114.20" stroke="#333" stroke-width="0.6" />
<text x="350.00" y="124.20" font-size="4.3" text-anchor="middle" fill="#444" >10</text>
<text x="353.80" y="122.20" font-size="3.0" text-anchor="middle" fill="#444" >0</text>
<line x1="375.15" y1="112.50" x2="375.15" y2="115.10" stroke="#222" stroke-width="0.8" />
<line x1="381.94" y1="112.50" x2="381.94" y2="114.20" stroke="#333" stroke-width="0.6" />
<line x1="385.91" y1="112.50" x2="385.91" y2="114.20" stroke="#333" stroke-width="0.6" />
<line x1="388.73" y1="112.50" x2="388.73" y2="114.20" stroke="#333" stroke-width="0.6" />
<line x1="390.91" y1="112.50" x2="390.91" y2="114.20" stroke="#333" stroke-width="0.6" />
<line x1="392.70" y1="112.50" x2="392.70" y2="114.20" stroke="#333" stroke-width="0.6" />
<line x1="394.21" y1="112.50" x2="394.21" y2="114.20" stroke="#333" stroke-width="0.6" />
<line x1="395.51" y1="112.50" x2="395.51" y2="114.20" stroke="#333" stroke-width="0.6" />
<line x1="396.67" y1="112.50" x2="396.67" y2="114.20" stroke="#333" stroke-width="0.6" />
<text x="372.55" y="124.20" font-size="4.3" text-anchor="middle" fill="#444" >10</text>
<text x="376.35" y="122.20" font-size="3.0" text-anchor="middle" fill="#444" >1</text>
<line x1="397.70" y1="112.50" x2="397.70" y2="115.10" stroke="#222" stroke-width="0.8" />
<line x1="404.49" y1="112.50" x2="404.49" y2="114.20" stroke="#333" stroke-width="0.6" />
<line x1="408.46" y1="112.50" x2="408.46" y2="114.20" stroke="#333" stroke-width="0.6" />
<line x1="411.28" y1="112.50" x2="411.28" y2="114.20" stroke="#333" stroke-width="0.6" />
<line x1="413.46" y1="112.50" x2="413.46" y2="114.20" stroke="#333" stroke-width="0.6" />
<line x1="415.25" y1="112.50" x2="415.25" y2="114.20" stroke="#333" stroke-width="0.6" />
<line x1="416.76" y1="112.50" x2="416.76" y2="114.20" stroke="#333" stroke-width="0.6" />
<line x1="418.06" y1="112.50" x2="418.06" y2="114.20" stroke="#333" stroke-width="0.6" />
<line x1="419.22" y1="112.50" x2="419.22" y2="114.20" stroke="#333" stroke-width="0.6" />
<text x="395.10" y="124.20" font-size="4.3" text-anchor="middle" fill="#444" >10</text>
<text x="398.90" y="122.20" font-size="3.0" text-anchor="middle" fill="#444" >2</text>
<line x1="420.25" y1="112.50" x2="420.25" y2="115.10" stroke="#222" stroke-width="0.8" />
<line x1="427.04" y1="112.50" x2="427.04" y2="114.20" stroke="#333" stroke-width="0.6" />
<line x1="431.01" y1="112.50" x2="431.01" y2="114.20" stroke="#333" stroke-width="0.6" />
<line x1="433.83" y1="112.50" x2="433.83" y2="114.20" stroke="#333" stroke-width="0.6" />
<line x1="436.01" y1="112.50" x2="436.01" y2="114.20" stroke="#333" stroke-width="0.6" />
<line x1="437.80" y1="112.50" x2="437.80" y2="114.20" stroke="#333" stroke-width="0.6" />
<line x1="439.31" y1="112.50" x2="439.31" y2="114.20" stroke="#333" stroke-width="0.6" />
<line x1="440.61" y1="112.50" x2="440.61" y2="114.20" stroke="#333" stroke-width="0.6" />
<line x1="441.77" y1="112.50" x2="441.77" y2="114.20" stroke="#333" stroke-width="0.6" />
<text x="417.65" y="124.20" font-size="4.3" text-anchor="middle" fill="#444" >10</text>
<text x="421.45" y="122.20" font-size="3.0" text-anchor="middle" fill="#444" >3</text>
<line x1="442.80" y1="112.50" x2="442.80" y2="115.10" stroke="#222" stroke-width="0.8" />
<text x="440.20" y="124.20" font-size="4.3" text-anchor="middle" fill="#444" >10</text>
<text x="444.00" y="122.20" font-size="3.0" text-anchor="middle" fill="#444" >4</text>
<line x1="345.80" y1="112.50" x2="347.60" y2="112.50" stroke="#888" stroke-width="0.9" />
<line x1="346.40" y1="108.06" x2="347.60" y2="108.06" stroke="#aaa" stroke-width="0.6" />
<line x1="346.40" y1="103.62" x2="347.60" y2="103.62" stroke="#aaa" stroke-width="0.6" />
<line x1="346.40" y1="99.19" x2="347.60" y2="99.19" stroke="#aaa" stroke-width="0.6" />
<line x1="345.80" y1="94.75" x2="347.60" y2="94.75" stroke="#888" stroke-width="0.9" />
<line x1="346.40" y1="90.31" x2="347.60" y2="90.31" stroke="#aaa" stroke-width="0.6" />
<line x1="346.40" y1="85.88" x2="347.60" y2="85.88" stroke="#aaa" stroke-width="0.6" />
<line x1="346.40" y1="81.44" x2="347.60" y2="81.44" stroke="#aaa" stroke-width="0.6" />
<line x1="345.80" y1="77.00" x2="347.60" y2="77.00" stroke="#888" stroke-width="0.9" />
<line x1="346.40" y1="72.56" x2="347.60" y2="72.56" stroke="#aaa" stroke-width="0.6" />
<line x1="346.40" y1="68.12" x2="347.60" y2="68.12" stroke="#aaa" stroke-width="0.6" />
<line x1="346.40" y1="63.69" x2="347.60" y2="63.69" stroke="#aaa" stroke-width="0.6" />
<line x1="345.80" y1="59.25" x2="347.60" y2="59.25" stroke="#888" stroke-width="0.9" />
<line x1="346.40" y1="54.81" x2="347.60" y2="54.81" stroke="#aaa" stroke-width="0.6" />
<line x1="346.40" y1="50.38" x2="347.60" y2="50.38" stroke="#aaa" stroke-width="0.6" />
<line x1="346.40" y1="45.94" x2="347.60" y2="45.94" stroke="#aaa" stroke-width="0.6" />
<line x1="345.80" y1="41.50" x2="347.60" y2="41.50" stroke="#888" stroke-width="0.9" />
<line x1="346.40" y1="37.06" x2="347.60" y2="37.06" stroke="#aaa" stroke-width="0.6" />
<line x1="346.40" y1="32.62" x2="347.60" y2="32.62" stroke="#aaa" stroke-width="0.6" />
<line x1="346.40" y1="28.19" x2="347.60" y2="28.19" stroke="#aaa" stroke-width="0.6" />
<line x1="345.80" y1="23.75" x2="347.60" y2="23.75" stroke="#888" stroke-width="0.9" />
<text x="0.40" y="13.70" font-size="17.5" text-anchor="start" fill="#000" font-weight="bold" >A</text>
<text x="19.50" y="55.80" font-size="7.6" text-anchor="middle" fill="#222" textLength="24.30" lengthAdjust="spacingAndGlyphs" transform="rotate(-90 19.50 55.80)" >Counts</text>
<rect x="28.8" y="134.1" width="51.5" height="2.3" fill="#000"/>
<path d="M76.3,131.7 L93.8,135.25 L76.3,138.8 L79.2,135.25 Z" fill="#000"/>
<text x="99.60" y="138.10" font-size="10.4" text-anchor="start" fill="#222" >CFSE</text>
<rect x="449.8" y="18.90" width="10.0" height="8.3" fill="#fff" stroke="#222" stroke-width="0.9"/>
<text x="462.70" y="25.90" font-size="9.0" text-anchor="start" fill="#151515" >Untreated 0h</text>
<rect x="449.8" y="30.20" width="10.0" height="8.3" fill="#999" stroke="#222" stroke-width="0.9"/>
<text x="462.70" y="37.60" font-size="9.0" text-anchor="start" fill="#151515" >Untreated 72h</text>
<rect x="449.8" y="42.00" width="10.0" height="8.3" fill="#000" stroke="#222" stroke-width="0.9"/>
<text x="462.70" y="49.20" font-size="9.0" text-anchor="start" fill="#151515" >BCT 72h</text>
<text x="-0.30" y="170.80" font-size="17.5" text-anchor="start" fill="#000" font-weight="bold" >B</text>
<line x1="63.20" y1="184.92" x2="63.20" y2="330.30" stroke="#000" stroke-width="1.6" />
<line x1="62.40" y1="329.50" x2="353.30" y2="329.50" stroke="#000" stroke-width="1.6" />
<line x1="59.60" y1="329.50" x2="63.20" y2="329.50" stroke="#000" stroke-width="1.4" />
<text x="58.00" y="332.30" font-size="7.7" text-anchor="end" fill="#111" font-weight="bold" >0</text>
<line x1="59.60" y1="305.52" x2="63.20" y2="305.52" stroke="#000" stroke-width="1.4" />
<text x="58.00" y="308.32" font-size="7.7" text-anchor="end" fill="#111" font-weight="bold" >20</text>
<line x1="59.60" y1="281.54" x2="63.20" y2="281.54" stroke="#000" stroke-width="1.4" />
<text x="58.00" y="284.34" font-size="7.7" text-anchor="end" fill="#111" font-weight="bold" >40</text>
<line x1="59.60" y1="257.56" x2="63.20" y2="257.56" stroke="#000" stroke-width="1.4" />
<text x="58.00" y="260.36" font-size="7.7" text-anchor="end" fill="#111" font-weight="bold" >60</text>
<line x1="59.60" y1="233.58" x2="63.20" y2="233.58" stroke="#000" stroke-width="1.4" />
<text x="58.00" y="236.38" font-size="7.7" text-anchor="end" fill="#111" font-weight="bold" >80</text>
<line x1="59.60" y1="209.60" x2="63.20" y2="209.60" stroke="#000" stroke-width="1.4" />
<text x="58.00" y="212.40" font-size="7.7" text-anchor="end" fill="#111" font-weight="bold" >100</text>
<line x1="59.60" y1="185.62" x2="63.20" y2="185.62" stroke="#000" stroke-width="1.4" />
<text x="58.00" y="188.42" font-size="7.7" text-anchor="end" fill="#111" font-weight="bold" >120</text>
<line x1="63.20" y1="329.50" x2="63.20" y2="333.10" stroke="#000" stroke-width="1.4" />
<text x="63.20" y="341.80" font-size="7.7" text-anchor="middle" fill="#111" font-weight="bold" >0</text>
<line x1="92.14" y1="329.50" x2="92.14" y2="333.10" stroke="#000" stroke-width="1.4" />
<text x="92.14" y="341.80" font-size="7.7" text-anchor="middle" fill="#111" font-weight="bold" >200</text>
<line x1="121.08" y1="329.50" x2="121.08" y2="333.10" stroke="#000" stroke-width="1.4" />
<text x="121.08" y="341.80" font-size="7.7" text-anchor="middle" fill="#111" font-weight="bold" >400</text>
<line x1="150.02" y1="329.50" x2="150.02" y2="333.10" stroke="#000" stroke-width="1.4" />
<text x="150.02" y="341.80" font-size="7.7" text-anchor="middle" fill="#111" font-weight="bold" >500</text>
<line x1="178.96" y1="329.50" x2="178.96" y2="333.10" stroke="#000" stroke-width="1.4" />
<text x="178.96" y="341.80" font-size="7.7" text-anchor="middle" fill="#111" font-weight="bold" >600</text>
<line x1="207.90" y1="329.50" x2="207.90" y2="333.10" stroke="#000" stroke-width="1.4" />
<text x="207.90" y="341.80" font-size="7.7" text-anchor="middle" fill="#111" font-weight="bold" >800</text>
<line x1="236.84" y1="329.50" x2="236.84" y2="333.10" stroke="#000" stroke-width="1.4" />
<text x="236.84" y="341.80" font-size="7.7" text-anchor="middle" fill="#111" font-weight="bold" >1000</text>
<line x1="265.78" y1="329.50" x2="265.78" y2="333.10" stroke="#000" stroke-width="1.4" />
<text x="265.78" y="341.80" font-size="7.7" text-anchor="middle" fill="#111" font-weight="bold" >1200</text>
<line x1="294.72" y1="329.50" x2="294.72" y2="333.10" stroke="#000" stroke-width="1.4" />
<text x="294.72" y="341.80" font-size="7.7" text-anchor="middle" fill="#111" font-weight="bold" >1500</text>
<line x1="323.66" y1="329.50" x2="323.66" y2="333.10" stroke="#000" stroke-width="1.4" />
<text x="323.66" y="341.80" font-size="7.7" text-anchor="middle" fill="#111" font-weight="bold" >1800</text>
<line x1="352.60" y1="329.50" x2="352.60" y2="333.10" stroke="#000" stroke-width="1.4" />
<text x="352.60" y="341.80" font-size="7.7" text-anchor="middle" fill="#111" font-weight="bold" >2000</text>
<text x="204.30" y="357.50" font-size="11.2" text-anchor="middle" fill="#111" font-weight="bold" >BCT (ng/mL)</text>
<text x="39.60" y="247.70" font-size="11.3" text-anchor="middle" fill="#111" font-weight="bold" transform="rotate(-90 39.60 247.70)" >% Proliferation relative to control</text>
<line x1="87.54" y1="205.52" x2="96.74" y2="205.52" stroke="#000" stroke-width="1.9" />
<line x1="77.67" y1="217.99" x2="77.67" y2="222.07" stroke="#000" stroke-width="1.8" />
<line x1="73.37" y1="217.99" x2="81.97" y2="217.99" stroke="#000" stroke-width="1.9" />
<line x1="73.37" y1="222.07" x2="81.97" y2="222.07" stroke="#000" stroke-width="1.9" />
<line x1="92.14" y1="243.77" x2="92.14" y2="295.33" stroke="#000" stroke-width="1.8" />
<line x1="87.84" y1="243.77" x2="96.44" y2="243.77" stroke="#000" stroke-width="1.9" />
<line x1="87.84" y1="295.33" x2="96.44" y2="295.33" stroke="#000" stroke-width="1.9" />
<path d="M63.20,209.60 L77.67,220.03 L92.14,269.55 L106.61,319.91 L121.08,319.91 L135.55,328.30 L150.02,329.50 L164.49,329.50 L178.96,329.50 L193.43,329.50 L207.90,329.50 L236.84,329.50 L294.72,329.50 L352.60,329.50" fill="none" stroke="#000" stroke-width="1.5" />
<path d="M60.50,211.76 L65.90,211.76 L63.20,206.90Z" fill="#000"/>
<path d="M74.97,222.19 L80.37,222.19 L77.67,217.33Z" fill="#000"/>
<path d="M89.44,271.71 L94.84,271.71 L92.14,266.85Z" fill="#000"/>
<path d="M103.91,322.07 L109.31,322.07 L106.61,317.21Z" fill="#000"/>
<path d="M118.38,322.07 L123.78,322.07 L121.08,317.21Z" fill="#000"/>
<path d="M132.85,330.46 L138.25,330.46 L135.55,325.60Z" fill="#000"/>
<path d="M147.32,331.66 L152.72,331.66 L150.02,326.80Z" fill="#000"/>
<path d="M161.79,331.66 L167.19,331.66 L164.49,326.80Z" fill="#000"/>
<path d="M176.26,331.66 L181.66,331.66 L178.96,326.80Z" fill="#000"/>
<path d="M190.73,331.66 L196.13,331.66 L193.43,326.80Z" fill="#000"/>
<path d="M205.20,331.66 L210.60,331.66 L207.90,326.80Z" fill="#000"/>
<path d="M234.14,331.66 L239.54,331.66 L236.84,326.80Z" fill="#000"/>
<path d="M292.02,331.66 L297.42,331.66 L294.72,326.80Z" fill="#000"/>
<path d="M349.90,331.66 L355.30,331.66 L352.60,326.80Z" fill="#000"/>
<line x1="77.67" y1="207.92" x2="77.67" y2="228.06" stroke="#000" stroke-width="1.8" />
<line x1="73.37" y1="207.92" x2="81.97" y2="207.92" stroke="#000" stroke-width="1.9" />
<line x1="73.37" y1="228.06" x2="81.97" y2="228.06" stroke="#000" stroke-width="1.9" />
<line x1="92.14" y1="215.59" x2="92.14" y2="239.57" stroke="#000" stroke-width="1.8" />
<line x1="87.84" y1="215.59" x2="96.44" y2="215.59" stroke="#000" stroke-width="1.9" />
<line x1="87.84" y1="239.57" x2="96.44" y2="239.57" stroke="#000" stroke-width="1.9" />
<line x1="106.61" y1="206.00" x2="106.61" y2="258.76" stroke="#000" stroke-width="1.8" />
<line x1="102.31" y1="206.00" x2="110.91" y2="206.00" stroke="#000" stroke-width="1.9" />
<line x1="102.31" y1="258.76" x2="110.91" y2="258.76" stroke="#000" stroke-width="1.9" />
<line x1="121.08" y1="251.56" x2="121.08" y2="263.56" stroke="#000" stroke-width="1.8" />
<line x1="116.78" y1="251.56" x2="125.38" y2="251.56" stroke="#000" stroke-width="1.9" />
<line x1="116.78" y1="263.56" x2="125.38" y2="263.56" stroke="#000" stroke-width="1.9" />
<line x1="150.02" y1="274.95" x2="150.02" y2="280.94" stroke="#000" stroke-width="1.8" />
<line x1="145.72" y1="274.95" x2="154.32" y2="274.95" stroke="#000" stroke-width="1.9" />
<line x1="145.72" y1="280.94" x2="154.32" y2="280.94" stroke="#000" stroke-width="1.9" />
<line x1="178.96" y1="292.33" x2="178.96" y2="299.52" stroke="#000" stroke-width="1.8" />
<line x1="174.66" y1="292.33" x2="183.26" y2="292.33" stroke="#000" stroke-width="1.9" />
<line x1="174.66" y1="299.52" x2="183.26" y2="299.52" stroke="#000" stroke-width="1.9" />
<line x1="193.43" y1="295.93" x2="193.43" y2="304.32" stroke="#000" stroke-width="1.8" />
<line x1="189.13" y1="295.93" x2="197.73" y2="295.93" stroke="#000" stroke-width="1.9" />
<line x1="189.13" y1="304.32" x2="197.73" y2="304.32" stroke="#000" stroke-width="1.9" />
<line x1="207.90" y1="295.93" x2="207.90" y2="306.72" stroke="#000" stroke-width="1.8" />
<line x1="203.60" y1="295.93" x2="212.20" y2="295.93" stroke="#000" stroke-width="1.9" />
<line x1="203.60" y1="306.72" x2="212.20" y2="306.72" stroke="#000" stroke-width="1.9" />
<line x1="236.84" y1="302.28" x2="236.84" y2="309.96" stroke="#000" stroke-width="1.8" />
<line x1="232.54" y1="302.28" x2="241.14" y2="302.28" stroke="#000" stroke-width="1.9" />
<line x1="232.54" y1="309.96" x2="241.14" y2="309.96" stroke="#000" stroke-width="1.9" />
<path d="M63.20,209.60 L77.67,217.99 L92.14,227.58 L106.61,232.38 L121.08,257.56 L135.55,269.55 L150.02,277.94 L164.49,292.93 L178.96,295.93 L193.43,300.12 L207.90,301.32 L236.84,306.12 L294.72,313.67 L338.70,317.20" fill="none" stroke="#000" stroke-width="2.1" stroke-dasharray="6.5 1.8"/>
<path d="M60.20,207.20 L66.20,207.20 L63.20,212.60Z" fill="#000"/>
<path d="M74.67,215.59 L80.67,215.59 L77.67,220.99Z" fill="#000"/>
<path d="M89.14,225.18 L95.14,225.18 L92.14,230.58Z" fill="#000"/>
<path d="M103.61,229.98 L109.61,229.98 L106.61,235.38Z" fill="#000"/>
<path d="M118.08,255.16 L124.08,255.16 L121.08,260.56Z" fill="#000"/>
<path d="M132.55,267.15 L138.55,267.15 L135.55,272.55Z" fill="#000"/>
<path d="M147.02,275.54 L153.02,275.54 L150.02,280.94Z" fill="#000"/>
<path d="M161.49,290.53 L167.49,290.53 L164.49,295.93Z" fill="#000"/>
<path d="M175.96,293.53 L181.96,293.53 L178.96,298.93Z" fill="#000"/>
<path d="M190.43,297.72 L196.43,297.72 L193.43,303.12Z" fill="#000"/>
<path d="M204.90,298.92 L210.90,298.92 L207.90,304.32Z" fill="#000"/>
<path d="M233.84,303.72 L239.84,303.72 L236.84,309.12Z" fill="#000"/>
<path d="M291.72,311.27 L297.72,311.27 L294.72,316.67Z" fill="#000"/>
<path d="M349.60,316.31 L355.60,316.31 L352.60,321.71Z" fill="#000"/>
<line x1="77.67" y1="206.00" x2="77.67" y2="225.19" stroke="#000" stroke-width="1.8" />
<line x1="73.37" y1="206.00" x2="81.97" y2="206.00" stroke="#000" stroke-width="1.9" />
<line x1="73.37" y1="225.19" x2="81.97" y2="225.19" stroke="#000" stroke-width="1.9" />
<line x1="92.14" y1="201.45" x2="92.14" y2="228.54" stroke="#000" stroke-width="1.8" />
<line x1="87.84" y1="201.45" x2="96.44" y2="201.45" stroke="#000" stroke-width="1.9" />
<line x1="87.84" y1="228.54" x2="96.44" y2="228.54" stroke="#000" stroke-width="1.9" />
<line x1="106.61" y1="240.77" x2="106.61" y2="257.56" stroke="#000" stroke-width="1.8" />
<line x1="102.31" y1="240.77" x2="110.91" y2="240.77" stroke="#000" stroke-width="1.9" />
<line x1="102.31" y1="257.56" x2="110.91" y2="257.56" stroke="#000" stroke-width="1.9" />
<line x1="121.08" y1="242.57" x2="121.08" y2="264.15" stroke="#000" stroke-width="1.8" />
<line x1="116.78" y1="242.57" x2="125.38" y2="242.57" stroke="#000" stroke-width="1.9" />
<line x1="116.78" y1="264.15" x2="125.38" y2="264.15" stroke="#000" stroke-width="1.9" />
<line x1="135.55" y1="276.38" x2="135.55" y2="287.89" stroke="#000" stroke-width="1.8" />
<line x1="131.25" y1="276.38" x2="139.85" y2="276.38" stroke="#000" stroke-width="1.9" />
<line x1="131.25" y1="287.89" x2="139.85" y2="287.89" stroke="#000" stroke-width="1.9" />
<line x1="150.02" y1="285.14" x2="150.02" y2="295.93" stroke="#000" stroke-width="1.8" />
<line x1="145.72" y1="285.14" x2="154.32" y2="285.14" stroke="#000" stroke-width="1.9" />
<line x1="145.72" y1="295.93" x2="154.32" y2="295.93" stroke="#000" stroke-width="1.9" />
<line x1="164.49" y1="298.93" x2="164.49" y2="306.12" stroke="#000" stroke-width="1.8" />
<line x1="160.19" y1="298.93" x2="168.79" y2="298.93" stroke="#000" stroke-width="1.9" />
<line x1="160.19" y1="306.12" x2="168.79" y2="306.12" stroke="#000" stroke-width="1.9" />
<line x1="178.96" y1="293.53" x2="178.96" y2="299.52" stroke="#000" stroke-width="1.8" />
<line x1="174.66" y1="293.53" x2="183.26" y2="293.53" stroke="#000" stroke-width="1.9" />
<line x1="174.66" y1="299.52" x2="183.26" y2="299.52" stroke="#000" stroke-width="1.9" />
<line x1="193.43" y1="298.93" x2="193.43" y2="307.32" stroke="#000" stroke-width="1.8" />
<line x1="189.13" y1="298.93" x2="197.73" y2="298.93" stroke="#000" stroke-width="1.9" />
<line x1="189.13" y1="307.32" x2="197.73" y2="307.32" stroke="#000" stroke-width="1.9" />
<line x1="207.90" y1="306.72" x2="207.90" y2="311.51" stroke="#000" stroke-width="1.8" />
<line x1="203.60" y1="306.72" x2="212.20" y2="306.72" stroke="#000" stroke-width="1.9" />
<line x1="203.60" y1="311.51" x2="212.20" y2="311.51" stroke="#000" stroke-width="1.9" />
<line x1="236.84" y1="304.92" x2="236.84" y2="309.72" stroke="#000" stroke-width="1.8" />
<line x1="232.54" y1="304.92" x2="241.14" y2="304.92" stroke="#000" stroke-width="1.9" />
<line x1="232.54" y1="309.72" x2="241.14" y2="309.72" stroke="#000" stroke-width="1.9" />
<path d="M63.20,209.60 L77.67,215.59 L92.14,215.00 L106.61,249.17 L121.08,253.36 L135.55,282.14 L150.02,290.53 L164.49,302.52 L178.96,296.53 L193.43,303.12 L207.90,309.12 L236.84,307.32 L294.72,313.91 L338.70,317.00" fill="none" stroke="#000" stroke-width="2.1" stroke-dasharray="4.2 2"/>
<circle cx="63.20" cy="209.60" r="3.1" fill="#000"/>
<circle cx="77.67" cy="215.59" r="3.1" fill="#000"/>
<circle cx="92.14" cy="215.00" r="3.1" fill="#000"/>
<circle cx="106.61" cy="249.17" r="3.1" fill="#000"/>
<circle cx="121.08" cy="253.36" r="3.1" fill="#000"/>
<circle cx="135.55" cy="282.14" r="3.1" fill="#000"/>
<circle cx="150.02" cy="290.53" r="3.1" fill="#000"/>
<circle cx="164.49" cy="302.52" r="3.1" fill="#000"/>
<circle cx="178.96" cy="296.53" r="3.1" fill="#000"/>
<circle cx="193.43" cy="303.12" r="3.1" fill="#000"/>
<circle cx="207.90" cy="309.12" r="3.1" fill="#000"/>
<circle cx="236.84" cy="307.32" r="3.1" fill="#000"/>
<circle cx="294.72" cy="313.91" r="3.1" fill="#000"/>
<circle cx="352.60" cy="316.31" r="3.1" fill="#000"/>
<line x1="77.67" y1="220.39" x2="77.67" y2="270.75" stroke="#000" stroke-width="1.8" />
<line x1="73.37" y1="220.39" x2="81.97" y2="220.39" stroke="#000" stroke-width="1.9" />
<line x1="73.37" y1="270.75" x2="81.97" y2="270.75" stroke="#000" stroke-width="1.9" />
<line x1="106.61" y1="256.96" x2="106.61" y2="262.96" stroke="#000" stroke-width="1.8" />
<line x1="102.31" y1="256.96" x2="110.91" y2="256.96" stroke="#000" stroke-width="1.9" />
<line x1="102.31" y1="262.96" x2="110.91" y2="262.96" stroke="#000" stroke-width="1.9" />
<line x1="121.08" y1="277.94" x2="121.08" y2="301.92" stroke="#000" stroke-width="1.8" />
<line x1="116.78" y1="277.94" x2="125.38" y2="277.94" stroke="#000" stroke-width="1.9" />
<line x1="116.78" y1="301.92" x2="125.38" y2="301.92" stroke="#000" stroke-width="1.9" />
<line x1="164.49" y1="325.06" x2="164.49" y2="330.34" stroke="#000" stroke-width="1.8" />
<line x1="160.19" y1="325.06" x2="168.79" y2="325.06" stroke="#000" stroke-width="1.9" />
<line x1="160.19" y1="330.34" x2="168.79" y2="330.34" stroke="#000" stroke-width="1.9" />
<line x1="178.96" y1="316.43" x2="178.96" y2="324.58" stroke="#000" stroke-width="1.8" />
<line x1="174.66" y1="316.43" x2="183.26" y2="316.43" stroke="#000" stroke-width="1.9" />
<line x1="174.66" y1="324.58" x2="183.26" y2="324.58" stroke="#000" stroke-width="1.9" />
<path d="M63.20,209.60 L77.67,245.57 L92.14,259.96 L106.61,259.96 L121.08,289.93 L135.55,313.31 L150.02,322.31 L164.49,327.70 L178.96,320.51 L193.43,325.90 L207.90,325.90 L236.84,325.90 L294.72,325.90 L352.60,327.10" fill="none" stroke="#000" stroke-width="2.3" stroke-dasharray="5.5 2.2"/>
<rect x="60.30" y="206.70" width="5.8" height="5.8" fill="#000"/>
<rect x="74.77" y="242.67" width="5.8" height="5.8" fill="#000"/>
<rect x="89.24" y="257.06" width="5.8" height="5.8" fill="#000"/>
<rect x="103.71" y="257.06" width="5.8" height="5.8" fill="#000"/>
<rect x="118.18" y="287.03" width="5.8" height="5.8" fill="#000"/>
<rect x="132.65" y="310.41" width="5.8" height="5.8" fill="#000"/>
<rect x="147.12" y="319.41" width="5.8" height="5.8" fill="#000"/>
<rect x="161.59" y="324.80" width="5.8" height="5.8" fill="#000"/>
<rect x="176.06" y="317.61" width="5.8" height="5.8" fill="#000"/>
<rect x="190.53" y="323.00" width="5.8" height="5.8" fill="#000"/>
<rect x="205.00" y="323.00" width="5.8" height="5.8" fill="#000"/>
<rect x="233.94" y="323.00" width="5.8" height="5.8" fill="#000"/>
<rect x="291.82" y="323.00" width="5.8" height="5.8" fill="#000"/>
<rect x="349.70" y="324.20" width="5.8" height="5.8" fill="#000"/>
<line x1="129.2" y1="190.00" x2="141.6" y2="190.00" stroke="#000" stroke-width="1.5" />
<path d="M132.50,192.16 L137.90,192.16 L135.20,187.30Z" fill="#000"/>
<text x="148.60" y="193.20" font-size="8.9" text-anchor="start" fill="#000" >HL60</text>
<line x1="129.2" y1="202.25" x2="141.6" y2="202.25" stroke="#000" stroke-width="2.2" />
<rect x="132.50" y="199.55" width="5.4" height="5.4" fill="#000"/>
<text x="148.60" y="205.45" font-size="8.9" text-anchor="start" fill="#000" >U937</text>
<line x1="129.2" y1="214.50" x2="141.6" y2="214.50" stroke="#000" stroke-width="2.0" stroke-dasharray="2.6 1.6"/>
<circle cx="135.20" cy="214.50" r="2.7" fill="#000"/>
<text x="148.60" y="217.70" font-size="8.9" text-anchor="start" fill="#000" >K562</text>
<line x1="129.2" y1="226.75" x2="141.6" y2="226.75" stroke="#000" stroke-width="2.0" />
<path d="M132.50,224.59 L137.90,224.59 L135.20,229.45Z" fill="#000"/>
<text x="148.60" y="229.95" font-size="8.9" text-anchor="start" fill="#000" >KG1A</text>
<text x="0.10" y="381.10" font-size="17.5" text-anchor="start" fill="#000" font-weight="bold" >C</text>
<defs>
<pattern id="hatch" width="2.6" height="2.6" patternUnits="userSpaceOnUse" patternTransform="rotate(-48)">
<rect width="2.6" height="2.6" fill="#fff"/><line x1="-1" y1="1.3" x2="4" y2="1.3" stroke="#5064b0" stroke-width="0.8"/></pattern>
<pattern id="hatch2" width="2.6" height="2.6" patternUnits="userSpaceOnUse" patternTransform="rotate(-48)">
<line x1="-1" y1="1.3" x2="4" y2="1.3" stroke="#5a2030" stroke-width="0.8"/></pattern>
</defs>
<line x1="43.90" y1="378.40" x2="43.90" y2="518.40" stroke="#222" stroke-width="1.0" />
<line x1="41.30" y1="518.40" x2="43.90" y2="518.40" stroke="#222" stroke-width="0.8" />
<line x1="41.30" y1="511.40" x2="43.90" y2="511.40" stroke="#222" stroke-width="0.8" />
<line x1="41.30" y1="504.40" x2="43.90" y2="504.40" stroke="#222" stroke-width="0.8" />
<line x1="41.30" y1="497.40" x2="43.90" y2="497.40" stroke="#222" stroke-width="0.8" />
<line x1="41.30" y1="490.40" x2="43.90" y2="490.40" stroke="#222" stroke-width="0.8" />
<line x1="41.30" y1="483.40" x2="43.90" y2="483.40" stroke="#222" stroke-width="0.8" />
<line x1="41.30" y1="476.40" x2="43.90" y2="476.40" stroke="#222" stroke-width="0.8" />
<line x1="41.30" y1="469.40" x2="43.90" y2="469.40" stroke="#222" stroke-width="0.8" />
<line x1="41.30" y1="462.40" x2="43.90" y2="462.40" stroke="#222" stroke-width="0.8" />
<line x1="41.30" y1="455.40" x2="43.90" y2="455.40" stroke="#222" stroke-width="0.8" />
<line x1="41.30" y1="448.40" x2="43.90" y2="448.40" stroke="#222" stroke-width="0.8" />
<line x1="41.30" y1="441.40" x2="43.90" y2="441.40" stroke="#222" stroke-width="0.8" />
<line x1="41.30" y1="434.40" x2="43.90" y2="434.40" stroke="#222" stroke-width="0.8" />
<line x1="41.30" y1="427.40" x2="43.90" y2="427.40" stroke="#222" stroke-width="0.8" />
<line x1="41.30" y1="420.40" x2="43.90" y2="420.40" stroke="#222" stroke-width="0.8" />
<line x1="41.30" y1="413.40" x2="43.90" y2="413.40" stroke="#222" stroke-width="0.8" />
<line x1="41.30" y1="406.40" x2="43.90" y2="406.40" stroke="#222" stroke-width="0.8" />
<line x1="41.30" y1="399.40" x2="43.90" y2="399.40" stroke="#222" stroke-width="0.8" />
<line x1="41.30" y1="392.40" x2="43.90" y2="392.40" stroke="#222" stroke-width="0.8" />
<line x1="41.30" y1="385.40" x2="43.90" y2="385.40" stroke="#222" stroke-width="0.8" />
<line x1="41.30" y1="378.40" x2="43.90" y2="378.40" stroke="#222" stroke-width="0.8" />
<line x1="38.60" y1="518.40" x2="43.90" y2="518.40" stroke="#222" stroke-width="1.0" />
<text x="36.20" y="518.70" font-size="8.0" text-anchor="middle" fill="#1a1a1a" textLength="4.05" lengthAdjust="spacingAndGlyphs" transform="rotate(-90 36.20 518.70)" >0</text>
<line x1="38.60" y1="490.40" x2="43.90" y2="490.40" stroke="#222" stroke-width="1.0" />
<text x="36.20" y="490.70" font-size="8.0" text-anchor="middle" fill="#1a1a1a" textLength="12.15" lengthAdjust="spacingAndGlyphs" transform="rotate(-90 36.20 490.70)" >200</text>
<line x1="38.60" y1="462.40" x2="43.90" y2="462.40" stroke="#222" stroke-width="1.0" />
<text x="36.20" y="462.70" font-size="8.0" text-anchor="middle" fill="#1a1a1a" textLength="12.15" lengthAdjust="spacingAndGlyphs" transform="rotate(-90 36.20 462.70)" >400</text>
<line x1="38.60" y1="434.40" x2="43.90" y2="434.40" stroke="#222" stroke-width="1.0" />
<text x="36.20" y="434.70" font-size="8.0" text-anchor="middle" fill="#1a1a1a" textLength="12.15" lengthAdjust="spacingAndGlyphs" transform="rotate(-90 36.20 434.70)" >600</text>
<line x1="38.60" y1="406.40" x2="43.90" y2="406.40" stroke="#222" stroke-width="1.0" />
<text x="36.20" y="406.70" font-size="8.0" text-anchor="middle" fill="#1a1a1a" textLength="12.15" lengthAdjust="spacingAndGlyphs" transform="rotate(-90 36.20 406.70)" >800</text>
<line x1="38.60" y1="378.40" x2="43.90" y2="378.40" stroke="#222" stroke-width="1.0" />
<text x="36.20" y="380.80" font-size="8.0" text-anchor="middle" fill="#1a1a1a" textLength="16.20" lengthAdjust="spacingAndGlyphs" transform="rotate(-90 36.20 380.80)" >1000</text>
<text x="22.90" y="443.80" font-size="8.5" text-anchor="middle" fill="#1a1a1a" textLength="24.20" lengthAdjust="spacingAndGlyphs" transform="rotate(-90 22.90 443.80)" >Counts</text>
<path d="M90.00,518.40 L90.00,518.40 L90.50,518.25 L91.00,518.04 L91.50,517.71 L92.00,517.20 L92.50,516.46 L93.00,515.54 L93.50,514.50 L94.00,513.40 L94.50,512.34 L95.00,511.18 L95.50,510.00 L96.00,508.84 L96.50,507.78 L97.00,506.76 L97.50,505.76 L98.00,504.80 L98.50,503.90 L99.00,503.11 L99.50,502.34 L100.00,501.62 L100.50,500.96 L101.00,500.40 L101.50,499.94 L102.00,499.57 L102.50,499.26 L103.00,499.01 L103.50,498.80 L104.00,498.70 L104.50,498.62 L105.00,498.56 L105.50,498.52 L106.00,498.48 L106.50,498.46 L107.00,498.44 L107.50,498.42 L108.00,498.40 L108.50,498.39 L109.00,498.39 L109.50,498.38 L110.00,498.37 L110.50,498.37 L111.00,498.37 L111.50,498.36 L112.00,498.36 L112.50,498.36 L113.00,498.36 L113.50,498.36 L114.00,498.36 L114.50,498.36 L115.00,498.37 L115.50,498.37 L116.00,498.37 L116.50,498.37 L117.00,498.38 L117.50,498.38 L118.00,498.38 L118.50,498.39 L119.00,498.39 L119.50,498.40 L120.00,498.40 L120.50,498.40 L121.00,498.41 L121.50,498.41 L122.00,498.41 L122.50,498.42 L123.00,498.42 L123.50,498.42 L124.00,498.43 L124.50,498.43 L125.00,498.44 L125.50,498.44 L126.00,498.44 L126.50,498.45 L127.00,498.46 L127.50,498.46 L128.00,498.47 L128.50,498.48 L129.00,498.49 L129.50,498.50 L130.00,498.51 L130.50,498.52 L131.00,498.53 L131.50,498.55 L132.00,498.56 L132.50,498.58 L133.00,498.60 L133.50,498.66 L134.00,498.72 L134.50,498.79 L135.00,498.88 L135.50,498.97 L136.00,499.09 L136.50,499.23 L137.00,499.40 L137.50,499.60 L138.00,499.82 L138.50,500.06 L139.00,500.32 L139.50,500.61 L140.00,500.92 L140.50,501.25 L141.00,501.60 L141.50,501.98 L142.00,502.41 L142.50,502.86 L143.00,503.32 L143.50,503.80 L144.00,504.28 L144.50,504.75 L145.00,505.20 L145.50,505.73 L146.00,506.25 L146.50,506.76 L147.00,507.28 L147.50,507.81 L148.00,508.37 L148.50,508.95 L149.00,509.58 L149.50,510.22 L150.00,510.89 L150.50,511.55 L151.00,512.19 L151.50,512.80 L152.00,513.45 L152.50,514.10 L153.00,514.74 L153.50,515.34 L154.00,515.90 L154.50,516.40 L155.00,516.93 L155.50,517.41 L156.00,517.82 L156.50,518.15 L157.00,518.40 L157.00,518.40Z" fill="url(#hatch)" stroke="none"/>
<path d="M84.50,518.40 L84.50,518.23 L85.00,518.12 L85.50,517.95 L86.00,517.68 L86.50,517.27 L87.00,516.68 L87.50,515.84 L88.00,514.67 L88.50,513.08 L89.00,510.99 L89.50,508.30 L90.00,504.94 L90.50,500.86 L91.00,496.04 L91.50,490.52 L92.00,484.40 L92.50,477.86 L93.00,471.13 L93.50,464.49 L94.00,458.27 L94.50,452.81 L95.00,448.44 L95.50,445.41 L96.00,443.93 L96.50,444.10 L97.00,445.90 L97.50,449.21 L98.00,453.83 L98.50,459.46 L99.00,465.79 L99.50,472.48 L100.00,479.20 L100.50,485.67 L101.00,491.67 L101.50,497.06 L102.00,501.73 L102.50,505.67 L103.00,508.89 L103.50,511.46 L104.00,513.44 L104.50,514.93 L105.00,516.03 L105.50,516.82 L106.00,517.37 L106.50,517.74 L107.00,517.99 L107.50,518.15 L108.00,518.25 L108.00,518.40Z" fill="#c9381f" stroke="#5a1a10" stroke-width="0.5"/>
<path d="M125.50,518.40 L125.50,518.16 L126.00,518.09 L126.50,518.01 L127.00,517.92 L127.50,517.80 L128.00,517.66 L128.50,517.48 L129.00,517.28 L129.50,517.03 L130.00,516.74 L130.50,516.39 L131.00,515.99 L131.50,515.52 L132.00,514.97 L132.50,514.35 L133.00,513.63 L133.50,512.82 L134.00,511.90 L134.50,510.86 L135.00,509.71 L135.50,508.43 L136.00,507.02 L136.50,505.48 L137.00,503.80 L137.50,502.00 L138.00,500.06 L138.50,497.99 L139.00,495.81 L139.50,493.52 L140.00,491.15 L140.50,488.69 L141.00,486.18 L141.50,483.64 L142.00,481.08 L142.50,478.54 L143.00,476.05 L143.50,473.63 L144.00,471.31 L144.50,469.12 L145.00,467.09 L145.50,465.25 L146.00,463.63 L146.50,462.24 L147.00,461.11 L147.50,460.26 L148.00,459.69 L148.50,459.42 L149.00,459.45 L149.50,459.78 L150.00,460.41 L150.50,461.32 L151.00,462.50 L151.50,463.94 L152.00,465.61 L152.50,467.48 L153.00,469.54 L153.50,471.76 L154.00,474.10 L154.50,476.54 L155.00,479.05 L155.50,481.59 L156.00,484.15 L156.50,486.69 L157.00,489.19 L157.50,491.63 L158.00,493.99 L158.50,496.26 L159.00,498.41 L159.50,500.45 L160.00,502.37 L160.50,504.15 L161.00,505.80 L161.50,507.31 L162.00,508.70 L162.50,509.95 L163.00,511.08 L163.50,512.09 L164.00,512.99 L164.50,513.78 L165.00,514.48 L165.50,515.09 L166.00,515.62 L166.50,516.07 L167.00,516.46 L167.50,516.80 L168.00,517.08 L168.50,517.32 L169.00,517.52 L169.50,517.69 L170.00,517.82 L170.50,517.94 L171.00,518.03 L171.00,518.40Z" fill="#c9381f" stroke="#5a1a10" stroke-width="0.5"/>
<path d="M90.00,518.40 L90.00,518.40 L90.50,518.25 L91.00,518.04 L91.50,517.71 L92.00,517.20 L92.50,516.46 L93.00,515.54 L93.50,514.50 L94.00,513.40 L94.50,512.34 L95.00,511.18 L95.50,510.00 L96.00,508.84 L96.50,507.78 L97.00,506.76 L97.50,505.76 L98.00,504.80 L98.50,503.90 L99.00,503.11 L99.50,502.34 L100.00,501.62 L100.50,500.96 L101.00,500.40 L101.50,499.94 L102.00,501.73 L102.50,505.67 L103.00,508.89 L103.50,511.46 L104.00,513.44 L104.50,514.93 L105.00,516.03 L105.50,516.82 L106.00,517.37 L106.50,517.74 L107.00,517.99 L107.50,518.15 L108.00,518.25 L108.00,518.40Z" fill="#bb3a26" stroke="none"/>
<path d="M90.00,518.40 L90.00,518.40 L90.50,518.25 L91.00,518.04 L91.50,517.71 L92.00,517.20 L92.50,516.46 L93.00,515.54 L93.50,514.50 L94.00,513.40 L94.50,512.34 L95.00,511.18 L95.50,510.00 L96.00,508.84 L96.50,507.78 L97.00,506.76 L97.50,505.76 L98.00,504.80 L98.50,503.90 L99.00,503.11 L99.50,502.34 L100.00,501.62 L100.50,500.96 L101.00,500.40 L101.50,499.94 L102.00,501.73 L102.50,505.67 L103.00,508.89 L103.50,511.46 L104.00,513.44 L104.50,514.93 L105.00,516.03 L105.50,516.82 L106.00,517.37 L106.50,517.74 L107.00,517.99 L107.50,518.15 L108.00,518.25 L108.00,518.40Z" fill="url(#hatch2)" stroke="none" opacity="0.5"/>
<path d="M125.50,518.40 L125.50,518.16 L126.00,518.09 L126.50,518.01 L127.00,517.92 L127.50,517.80 L128.00,517.66 L128.50,517.48 L129.00,517.28 L129.50,517.03 L130.00,516.74 L130.50,516.39 L131.00,515.99 L131.50,515.52 L132.00,514.97 L132.50,514.35 L133.00,513.63 L133.50,512.82 L134.00,511.90 L134.50,510.86 L135.00,509.71 L135.50,508.43 L136.00,507.02 L136.50,505.48 L137.00,503.80 L137.50,502.00 L138.00,500.06 L138.50,500.06 L139.00,500.32 L139.50,500.61 L140.00,500.92 L140.50,501.25 L141.00,501.60 L141.50,501.98 L142.00,502.41 L142.50,502.86 L143.00,503.32 L143.50,503.80 L144.00,504.28 L144.50,504.75 L145.00,505.20 L145.50,505.73 L146.00,506.25 L146.50,506.76 L147.00,507.28 L147.50,507.81 L148.00,508.37 L148.50,508.95 L149.00,509.58 L149.50,510.22 L150.00,510.89 L150.50,511.55 L151.00,512.19 L151.50,512.80 L152.00,513.45 L152.50,514.10 L153.00,514.74 L153.50,515.34 L154.00,515.90 L154.50,516.40 L155.00,516.93 L155.50,517.41 L156.00,517.82 L156.50,518.15 L157.00,518.40 L157.00,518.40Z" fill="#bb3a26" stroke="none"/>
<path d="M125.50,518.40 L125.50,518.16 L126.00,518.09 L126.50,518.01 L127.00,517.92 L127.50,517.80 L128.00,517.66 L128.50,517.48 L129.00,517.28 L129.50,517.03 L130.00,516.74 L130.50,516.39 L131.00,515.99 L131.50,515.52 L132.00,514.97 L132.50,514.35 L133.00,513.63 L133.50,512.82 L134.00,511.90 L134.50,510.86 L135.00,509.71 L135.50,508.43 L136.00,507.02 L136.50,505.48 L137.00,503.80 L137.50,502.00 L138.00,500.06 L138.50,500.06 L139.00,500.32 L139.50,500.61 L140.00,500.92 L140.50,501.25 L141.00,501.60 L141.50,501.98 L142.00,502.41 L142.50,502.86 L143.00,503.32 L143.50,503.80 L144.00,504.28 L144.50,504.75 L145.00,505.20 L145.50,505.73 L146.00,506.25 L146.50,506.76 L147.00,507.28 L147.50,507.81 L148.00,508.37 L148.50,508.95 L149.00,509.58 L149.50,510.22 L150.00,510.89 L150.50,511.55 L151.00,512.19 L151.50,512.80 L152.00,513.45 L152.50,514.10 L153.00,514.74 L153.50,515.34 L154.00,515.90 L154.50,516.40 L155.00,516.93 L155.50,517.41 L156.00,517.82 L156.50,518.15 L157.00,518.40 L157.00,518.40Z" fill="url(#hatch2)" stroke="none" opacity="0.5"/>
<path d="M90.00,518.40 L90.50,518.25 L91.00,518.04 L91.50,517.71 L92.00,517.20 L92.50,516.46 L93.00,515.54 L93.50,514.50 L94.00,513.40 L94.50,512.34 L95.00,511.18 L95.50,510.00 L96.00,508.84 L96.50,507.78 L97.00,506.76 L97.50,505.76 L98.00,504.80 L98.50,503.90 L99.00,503.11 L99.50,502.34 L100.00,501.62 L100.50,500.96 L101.00,500.40 L101.50,499.94 L102.00,499.57 L102.50,499.26 L103.00,499.01 L103.50,498.80 L104.00,498.70 L104.50,498.62 L105.00,498.56 L105.50,498.52 L106.00,498.48 L106.50,498.46 L107.00,498.44 L107.50,498.42 L108.00,498.40 L108.50,498.39 L109.00,498.39 L109.50,498.38 L110.00,498.37 L110.50,498.37 L111.00,498.37 L111.50,498.36 L112.00,498.36 L112.50,498.36 L113.00,498.36 L113.50,498.36 L114.00,498.36 L114.50,498.36 L115.00,498.37 L115.50,498.37 L116.00,498.37 L116.50,498.37 L117.00,498.38 L117.50,498.38 L118.00,498.38 L118.50,498.39 L119.00,498.39 L119.50,498.40 L120.00,498.40 L120.50,498.40 L121.00,498.41 L121.50,498.41 L122.00,498.41 L122.50,498.42 L123.00,498.42 L123.50,498.42 L124.00,498.43 L124.50,498.43 L125.00,498.44 L125.50,498.44 L126.00,498.44 L126.50,498.45 L127.00,498.46 L127.50,498.46 L128.00,498.47 L128.50,498.48 L129.00,498.49 L129.50,498.50 L130.00,498.51 L130.50,498.52 L131.00,498.53 L131.50,498.55 L132.00,498.56 L132.50,498.58 L133.00,498.60 L133.50,498.66 L134.00,498.72 L134.50,498.79 L135.00,498.88 L135.50,498.97 L136.00,499.09 L136.50,499.23 L137.00,499.40 L137.50,499.60 L138.00,499.82 L138.50,500.06 L139.00,500.32 L139.50,500.61 L140.00,500.92 L140.50,501.25 L141.00,501.60 L141.50,501.98 L142.00,502.41 L142.50,502.86 L143.00,503.32 L143.50,503.80 L144.00,504.28 L144.50,504.75 L145.00,505.20 L145.50,505.73 L146.00,506.25 L146.50,506.76 L147.00,507.28 L147.50,507.81 L148.00,508.37 L148.50,508.95 L149.00,509.58 L149.50,510.22 L150.00,510.89 L150.50,511.55 L151.00,512.19 L151.50,512.80 L152.00,513.45 L152.50,514.10 L153.00,514.74 L153.50,515.34 L154.00,515.90 L154.50,516.40 L155.00,516.93 L155.50,517.41 L156.00,517.82 L156.50,518.15 L157.00,518.40" fill="none" stroke="#333" stroke-width="0.6"/>
<path d="M82.50,518.38 L83.00,518.37 L83.50,518.34 L84.00,518.30 L84.50,518.23 L85.00,518.12 L85.50,517.95 L86.00,517.68 L86.50,517.27 L87.00,516.68 L87.50,515.84 L88.00,514.67 L88.50,513.08 L89.00,510.99 L89.50,508.30 L90.00,504.94 L90.50,500.70 L91.00,495.67 L91.50,489.83 L92.00,483.20 L92.50,475.92 L93.00,468.27 L93.50,460.58 L94.00,453.27 L94.50,446.75 L95.00,441.22 L95.50,437.01 L96.00,434.37 L96.50,433.48 L97.00,434.26 L97.50,436.57 L98.00,440.23 L98.50,444.96 L99.00,450.50 L99.50,456.41 L100.00,462.41 L100.50,468.23 L101.00,473.67 L101.50,478.60 L102.00,482.90 L102.50,486.53 L103.00,489.51 L103.50,491.86 L104.00,493.74 L104.50,495.16 L105.00,496.20 L105.50,496.94 L106.00,497.45 L106.50,497.80 L107.00,498.03 L107.50,498.17 L108.00,498.25 L108.50,498.30 L109.00,498.33 L109.50,498.35 L110.00,498.36 L110.50,498.36 L111.00,498.36 L111.50,498.36 L112.00,498.36 L112.50,498.36 L113.00,498.36 L113.50,498.36 L114.00,498.36 L114.50,498.36 L115.00,498.37 L115.50,498.37 L116.00,498.37 L116.50,498.37 L117.00,498.37 L117.50,498.38 L118.00,498.38 L118.50,498.38 L119.00,498.38 L119.50,498.39 L120.00,498.39 L120.50,498.39 L121.00,498.38 L121.50,498.38 L122.00,498.37 L122.50,498.36 L123.00,498.35 L123.50,498.33 L124.00,498.31 L124.50,498.28 L125.00,498.24 L125.50,498.20 L126.00,498.14 L126.50,498.06 L127.00,497.97 L127.50,497.86 L128.00,497.73 L128.50,497.56 L129.00,497.36 L129.50,497.13 L130.00,496.84 L130.50,496.51 L131.00,496.12 L131.50,495.67 L132.00,495.14 L132.50,494.53 L133.00,493.83 L133.50,493.08 L134.00,492.22 L134.50,491.26 L135.00,490.18 L135.50,489.00 L136.00,487.71 L136.50,486.31 L137.00,484.80 L137.50,483.19 L138.00,481.48 L138.50,479.65 L139.00,477.74 L139.50,475.74 L140.00,473.67 L140.50,471.54 L141.00,469.38 L141.50,467.22 L142.00,465.09 L142.50,463.00 L143.00,460.97 L143.50,459.03 L144.00,457.19 L144.50,455.47 L145.00,453.89 L145.50,452.59 L146.00,451.48 L146.50,450.60 L147.00,449.99 L147.50,449.67 L148.00,449.66 L148.50,449.98 L149.00,450.63 L149.50,451.61 L150.00,452.90 L150.50,454.46 L151.00,456.29 L151.50,458.34 L152.00,460.66 L152.50,463.19 L153.00,465.88 L153.50,468.70 L154.00,471.60 L154.50,474.54 L155.00,477.58 L155.50,480.60 L156.00,483.57 L156.50,486.44 L157.00,489.19 L157.50,491.63 L158.00,493.99 L158.50,496.26 L159.00,498.41 L159.50,500.45 L160.00,502.37 L160.50,504.15 L161.00,505.80 L161.50,507.31 L162.00,508.70 L162.50,509.95 L163.00,511.08 L163.50,512.09 L164.00,512.99 L164.50,513.78 L165.00,514.48 L165.50,515.09 L166.00,515.62 L166.50,516.07 L167.00,516.46 L167.50,516.80 L168.00,517.08 L168.50,517.32 L169.00,517.52 L169.50,517.69 L170.00,517.82 L170.50,517.94 L171.00,518.03 L171.50,518.11 L172.00,518.17 L172.50,518.22 L173.00,518.26" fill="none" stroke="#2a2a2a" stroke-width="0.9"/>
<line x1="38.60" y1="518.40" x2="198.30" y2="518.40" stroke="#222" stroke-width="1.1" />
<line x1="43.60" y1="518.40" x2="43.60" y2="523.40" stroke="#222" stroke-width="1.0" />
<line x1="48.36" y1="518.40" x2="48.36" y2="521.40" stroke="#222" stroke-width="0.8" />
<line x1="53.12" y1="518.40" x2="53.12" y2="521.40" stroke="#222" stroke-width="0.8" />
<line x1="57.88" y1="518.40" x2="57.88" y2="521.40" stroke="#222" stroke-width="0.8" />
<line x1="62.64" y1="518.40" x2="62.64" y2="521.40" stroke="#222" stroke-width="0.8" />
<line x1="67.40" y1="518.40" x2="67.40" y2="523.40" stroke="#222" stroke-width="1.0" />
<line x1="72.16" y1="518.40" x2="72.16" y2="521.40" stroke="#222" stroke-width="0.8" />
<line x1="76.92" y1="518.40" x2="76.92" y2="521.40" stroke="#222" stroke-width="0.8" />
<line x1="81.68" y1="518.40" x2="81.68" y2="521.40" stroke="#222" stroke-width="0.8" />
<line x1="86.44" y1="518.40" x2="86.44" y2="521.40" stroke="#222" stroke-width="0.8" />
<line x1="91.20" y1="518.40" x2="91.20" y2="523.40" stroke="#222" stroke-width="1.0" />
<line x1="95.96" y1="518.40" x2="95.96" y2="521.40" stroke="#222" stroke-width="0.8" />
<line x1="100.72" y1="518.40" x2="100.72" y2="521.40" stroke="#222" stroke-width="0.8" />
<line x1="105.48" y1="518.40" x2="105.48" y2="521.40" stroke="#222" stroke-width="0.8" />
<line x1="110.24" y1="518.40" x2="110.24" y2="521.40" stroke="#222" stroke-width="0.8" />
<line x1="115.00" y1="518.40" x2="115.00" y2="523.40" stroke="#222" stroke-width="1.0" />
<line x1="119.76" y1="518.40" x2="119.76" y2="521.40" stroke="#222" stroke-width="0.8" />
<line x1="124.52" y1="518.40" x2="124.52" y2="521.40" stroke="#222" stroke-width="0.8" />
<line x1="129.28" y1="518.40" x2="129.28" y2="521.40" stroke="#222" stroke-width="0.8" />
<line x1="134.04" y1="518.40" x2="134.04" y2="521.40" stroke="#222" stroke-width="0.8" />
<line x1="138.80" y1="518.40" x2="138.80" y2="523.40" stroke="#222" stroke-width="1.0" />
<line x1="143.56" y1="518.40" x2="143.56" y2="521.40" stroke="#222" stroke-width="0.8" />
<line x1="148.32" y1="518.40" x2="148.32" y2="521.40" stroke="#222" stroke-width="0.8" />
<line x1="153.08" y1="518.40" x2="153.08" y2="521.40" stroke="#222" stroke-width="0.8" />
<line x1="157.84" y1="518.40" x2="157.84" y2="521.40" stroke="#222" stroke-width="0.8" />
<line x1="162.60" y1="518.40" x2="162.60" y2="523.40" stroke="#222" stroke-width="1.0" />
<line x1="167.36" y1="518.40" x2="167.36" y2="521.40" stroke="#222" stroke-width="0.8" />
<line x1="172.12" y1="518.40" x2="172.12" y2="521.40" stroke="#222" stroke-width="0.8" />
<line x1="176.88" y1="518.40" x2="176.88" y2="521.40" stroke="#222" stroke-width="0.8" />
<line x1="181.64" y1="518.40" x2="181.64" y2="521.40" stroke="#222" stroke-width="0.8" />
<line x1="186.40" y1="518.40" x2="186.40" y2="523.40" stroke="#222" stroke-width="1.0" />
<line x1="191.16" y1="518.40" x2="191.16" y2="521.40" stroke="#222" stroke-width="0.8" />
<line x1="195.92" y1="518.40" x2="195.92" y2="521.40" stroke="#222" stroke-width="0.8" />
<text x="44.10" y="531.80" font-size="8.0" text-anchor="middle" fill="#1a1a1a" textLength="4.05" lengthAdjust="spacingAndGlyphs" >0</text>
<text x="67.90" y="531.80" font-size="8.0" text-anchor="middle" fill="#1a1a1a" textLength="16.20" lengthAdjust="spacingAndGlyphs" >1000</text>
<text x="91.70" y="531.80" font-size="8.0" text-anchor="middle" fill="#1a1a1a" textLength="16.20" lengthAdjust="spacingAndGlyphs" >2000</text>
<text x="115.50" y="531.80" font-size="8.0" text-anchor="middle" fill="#1a1a1a" textLength="16.20" lengthAdjust="spacingAndGlyphs" >3000</text>
<text x="139.30" y="531.80" font-size="8.0" text-anchor="middle" fill="#1a1a1a" textLength="16.20" lengthAdjust="spacingAndGlyphs" >4000</text>
<text x="163.10" y="531.80" font-size="8.0" text-anchor="middle" fill="#1a1a1a" textLength="16.20" lengthAdjust="spacingAndGlyphs" >5000</text>
<text x="186.90" y="531.80" font-size="8.0" text-anchor="middle" fill="#1a1a1a" textLength="16.20" lengthAdjust="spacingAndGlyphs" >6000</text>
<text x="122.40" y="381.50" font-size="10.7" text-anchor="middle" fill="#222" >HL60 Untreated</text>
<line x1="246.50" y1="376.40" x2="246.50" y2="516.40" stroke="#222" stroke-width="1.0" />
<line x1="243.90" y1="516.40" x2="246.50" y2="516.40" stroke="#222" stroke-width="0.8" />
<line x1="243.90" y1="509.40" x2="246.50" y2="509.40" stroke="#222" stroke-width="0.8" />
<line x1="243.90" y1="502.40" x2="246.50" y2="502.40" stroke="#222" stroke-width="0.8" />
<line x1="243.90" y1="495.40" x2="246.50" y2="495.40" stroke="#222" stroke-width="0.8" />
<line x1="243.90" y1="488.40" x2="246.50" y2="488.40" stroke="#222" stroke-width="0.8" />
<line x1="243.90" y1="481.40" x2="246.50" y2="481.40" stroke="#222" stroke-width="0.8" />
<line x1="243.90" y1="474.40" x2="246.50" y2="474.40" stroke="#222" stroke-width="0.8" />
<line x1="243.90" y1="467.40" x2="246.50" y2="467.40" stroke="#222" stroke-width="0.8" />
<line x1="243.90" y1="460.40" x2="246.50" y2="460.40" stroke="#222" stroke-width="0.8" />
<line x1="243.90" y1="453.40" x2="246.50" y2="453.40" stroke="#222" stroke-width="0.8" />
<line x1="243.90" y1="446.40" x2="246.50" y2="446.40" stroke="#222" stroke-width="0.8" />
<line x1="243.90" y1="439.40" x2="246.50" y2="439.40" stroke="#222" stroke-width="0.8" />
<line x1="243.90" y1="432.40" x2="246.50" y2="432.40" stroke="#222" stroke-width="0.8" />
<line x1="243.90" y1="425.40" x2="246.50" y2="425.40" stroke="#222" stroke-width="0.8" />
<line x1="243.90" y1="418.40" x2="246.50" y2="418.40" stroke="#222" stroke-width="0.8" />
<line x1="243.90" y1="411.40" x2="246.50" y2="411.40" stroke="#222" stroke-width="0.8" />
<line x1="243.90" y1="404.40" x2="246.50" y2="404.40" stroke="#222" stroke-width="0.8" />
<line x1="243.90" y1="397.40" x2="246.50" y2="397.40" stroke="#222" stroke-width="0.8" />
<line x1="243.90" y1="390.40" x2="246.50" y2="390.40" stroke="#222" stroke-width="0.8" />
<line x1="243.90" y1="383.40" x2="246.50" y2="383.40" stroke="#222" stroke-width="0.8" />
<line x1="243.90" y1="376.40" x2="246.50" y2="376.40" stroke="#222" stroke-width="0.8" />
<line x1="241.20" y1="516.40" x2="246.50" y2="516.40" stroke="#222" stroke-width="1.0" />
<text x="238.80" y="516.70" font-size="8.0" text-anchor="middle" fill="#1a1a1a" textLength="4.05" lengthAdjust="spacingAndGlyphs" transform="rotate(-90 238.80 516.70)" >0</text>
<line x1="241.20" y1="481.40" x2="246.50" y2="481.40" stroke="#222" stroke-width="1.0" />
<text x="238.80" y="481.70" font-size="8.0" text-anchor="middle" fill="#1a1a1a" textLength="8.10" lengthAdjust="spacingAndGlyphs" transform="rotate(-90 238.80 481.70)" >50</text>
<line x1="241.20" y1="446.40" x2="246.50" y2="446.40" stroke="#222" stroke-width="1.0" />
<text x="238.80" y="446.70" font-size="8.0" text-anchor="middle" fill="#1a1a1a" textLength="12.15" lengthAdjust="spacingAndGlyphs" transform="rotate(-90 238.80 446.70)" >100</text>
<line x1="241.20" y1="411.40" x2="246.50" y2="411.40" stroke="#222" stroke-width="1.0" />
<text x="238.80" y="411.70" font-size="8.0" text-anchor="middle" fill="#1a1a1a" textLength="12.15" lengthAdjust="spacingAndGlyphs" transform="rotate(-90 238.80 411.70)" >150</text>
<line x1="241.20" y1="376.40" x2="246.50" y2="376.40" stroke="#222" stroke-width="1.0" />
<text x="238.80" y="376.70" font-size="8.0" text-anchor="middle" fill="#1a1a1a" textLength="12.15" lengthAdjust="spacingAndGlyphs" transform="rotate(-90 238.80 376.70)" >200</text>
<text x="223.20" y="441.80" font-size="8.5" text-anchor="middle" fill="#1a1a1a" textLength="24.20" lengthAdjust="spacingAndGlyphs" transform="rotate(-90 223.20 441.80)" >Counts</text>
<path d="M283.00,516.40 L283.00,516.40 L283.50,516.23 L284.00,516.02 L284.50,515.62 L285.00,514.90 L285.50,514.24 L286.00,513.42 L286.50,512.48 L287.00,511.49 L287.50,510.49 L288.00,509.53 L288.50,508.73 L289.00,508.05 L289.50,507.37 L290.00,506.68 L290.50,506.02 L291.00,505.38 L291.50,504.77 L292.00,504.21 L292.50,503.70 L293.00,503.25 L293.50,502.84 L294.00,502.47 L294.50,502.14 L295.00,501.84 L295.50,501.57 L296.00,501.32 L296.50,501.09 L297.00,500.91 L297.50,500.78 L298.00,500.66 L298.50,500.55 L299.00,500.45 L299.50,500.36 L300.00,500.28 L300.50,500.21 L301.00,500.15 L301.50,500.10 L302.00,500.06 L302.50,500.02 L303.00,500.00 L303.50,499.99 L304.00,499.98 L304.50,499.98 L305.00,499.98 L305.50,499.99 L306.00,500.00 L306.50,500.02 L307.00,500.04 L307.50,500.07 L308.00,500.11 L308.50,500.14 L309.00,500.19 L309.50,500.24 L310.00,500.30 L310.50,500.36 L311.00,500.43 L311.50,500.50 L312.00,500.58 L312.50,500.67 L313.00,500.76 L313.50,500.86 L314.00,500.97 L314.50,501.08 L315.00,501.20 L315.50,501.32 L316.00,501.45 L316.50,501.58 L317.00,501.71 L317.50,501.85 L318.00,502.00 L318.50,502.14 L319.00,502.29 L319.50,502.45 L320.00,502.60 L320.50,502.81 L321.00,503.03 L321.50,503.26 L322.00,503.50 L322.50,503.74 L323.00,503.99 L323.50,504.24 L324.00,504.50 L324.50,504.77 L325.00,505.05 L325.50,505.33 L326.00,505.62 L326.50,505.92 L327.00,506.22 L327.50,506.54 L328.00,506.87 L328.50,507.20 L329.00,507.54 L329.50,507.89 L330.00,508.24 L330.50,508.59 L331.00,508.94 L331.50,509.28 L332.00,509.63 L332.50,509.97 L333.00,510.30 L333.50,510.65 L334.00,511.01 L334.50,511.37 L335.00,511.73 L335.50,512.09 L336.00,512.44 L336.50,512.79 L337.00,513.13 L337.50,513.45 L338.00,513.75 L338.50,514.04 L339.00,514.30 L339.50,514.60 L340.00,514.89 L340.50,515.15 L341.00,515.39 L341.50,515.61 L342.00,515.81 L342.50,515.99 L343.00,516.15 L343.50,516.28 L344.00,516.40 L344.00,516.40Z" fill="url(#hatch)" stroke="none"/>
<path d="M270.00,516.40 L270.00,516.25 L270.50,516.19 L271.00,516.11 L271.50,516.00 L272.00,515.86 L272.50,515.68 L273.00,515.44 L273.50,515.14 L274.00,514.76 L274.50,514.27 L275.00,513.67 L275.50,512.93 L276.00,512.02 L276.50,510.92 L277.00,509.60 L277.50,508.04 L278.00,506.21 L278.50,504.08 L279.00,501.64 L279.50,498.87 L280.00,495.75 L280.50,492.28 L281.00,488.47 L281.50,484.34 L282.00,479.91 L282.50,475.22 L283.00,470.32 L283.50,465.29 L284.00,460.18 L284.50,455.10 L285.00,450.12 L285.50,445.36 L286.00,440.90 L286.50,436.85 L287.00,433.29 L287.50,430.32 L288.00,428.00 L288.50,426.39 L289.00,425.54 L289.50,425.46 L290.00,426.16 L290.50,427.62 L291.00,429.80 L291.50,432.65 L292.00,436.09 L292.50,440.05 L293.00,444.44 L293.50,449.15 L294.00,454.09 L294.50,459.16 L295.00,464.27 L295.50,469.33 L296.00,474.25 L296.50,478.99 L297.00,483.48 L297.50,487.67 L298.00,491.55 L298.50,495.08 L299.00,498.27 L299.50,501.11 L300.00,503.62 L300.50,505.81 L301.00,507.70 L301.50,509.31 L302.00,510.67 L302.50,511.81 L303.00,512.76 L303.50,513.53 L304.00,514.16 L304.50,514.67 L305.00,515.07 L305.50,515.39 L306.00,515.64 L306.50,515.83 L307.00,515.98 L307.50,516.09 L308.00,516.17 L308.50,516.24 L309.00,516.28 L309.00,516.40Z" fill="#c9381f" stroke="#5a1a10" stroke-width="0.5"/>
<path d="M300.00,516.40 L300.00,516.13 L300.50,516.08 L301.00,516.03 L301.50,515.98 L302.00,515.92 L302.50,515.85 L303.00,515.77 L303.50,515.68 L304.00,515.59 L304.50,515.48 L305.00,515.36 L305.50,515.22 L306.00,515.07 L306.50,514.91 L307.00,514.73 L307.50,514.53 L308.00,514.31 L308.50,514.07 L309.00,513.81 L309.50,513.53 L310.00,513.23 L310.50,512.90 L311.00,512.54 L311.50,512.16 L312.00,511.75 L312.50,511.31 L313.00,510.84 L313.50,510.34 L314.00,509.81 L314.50,509.26 L315.00,508.67 L315.50,508.05 L316.00,507.41 L316.50,506.73 L317.00,506.03 L317.50,505.30 L318.00,504.55 L318.50,503.78 L319.00,502.98 L319.50,502.16 L320.00,501.33 L320.50,500.49 L321.00,499.63 L321.50,498.77 L322.00,497.91 L322.50,497.05 L323.00,496.19 L323.50,495.34 L324.00,494.50 L324.50,493.68 L325.00,492.89 L325.50,492.12 L326.00,491.38 L326.50,490.67 L327.00,490.00 L327.50,489.38 L328.00,488.80 L328.50,488.28 L329.00,487.80 L329.50,487.39 L330.00,487.03 L330.50,486.73 L331.00,486.50 L331.50,486.33 L332.00,486.23 L332.50,486.20 L333.00,486.23 L333.50,486.33 L334.00,486.50 L334.50,486.73 L335.00,487.03 L335.50,487.39 L336.00,487.80 L336.50,488.28 L337.00,488.80 L337.50,489.38 L338.00,490.00 L338.50,490.67 L339.00,491.38 L339.50,492.12 L340.00,492.89 L340.50,493.68 L341.00,494.50 L341.50,495.34 L342.00,496.19 L342.50,497.05 L343.00,497.91 L343.50,498.77 L344.00,499.63 L344.50,500.49 L345.00,501.33 L345.50,502.16 L346.00,502.98 L346.50,503.78 L347.00,504.55 L347.50,505.30 L348.00,506.03 L348.50,506.73 L349.00,507.41 L349.50,508.05 L350.00,508.67 L350.50,509.26 L351.00,509.81 L351.50,510.34 L352.00,510.84 L352.50,511.31 L353.00,511.75 L353.50,512.16 L354.00,512.54 L354.50,512.90 L355.00,513.23 L355.50,513.53 L356.00,513.81 L356.50,514.07 L357.00,514.31 L357.50,514.53 L358.00,514.73 L358.50,514.91 L359.00,515.07 L359.50,515.22 L360.00,515.36 L360.50,515.48 L361.00,515.59 L361.50,515.68 L362.00,515.77 L362.50,515.85 L363.00,515.92 L363.50,515.98 L364.00,516.03 L364.50,516.08 L365.00,516.13 L365.50,516.16 L366.00,516.20 L366.00,516.40Z" fill="#c9381f" stroke="#5a1a10" stroke-width="0.5"/>
<path d="M283.00,516.40 L283.00,516.40 L283.50,516.23 L284.00,516.02 L284.50,515.62 L285.00,514.90 L285.50,514.24 L286.00,513.42 L286.50,512.48 L287.00,511.49 L287.50,510.49 L288.00,509.53 L288.50,508.73 L289.00,508.05 L289.50,507.37 L290.00,506.68 L290.50,506.02 L291.00,505.38 L291.50,504.77 L292.00,504.21 L292.50,503.70 L293.00,503.25 L293.50,502.84 L294.00,502.47 L294.50,502.14 L295.00,501.84 L295.50,501.57 L296.00,501.32 L296.50,501.09 L297.00,500.91 L297.50,500.78 L298.00,500.66 L298.50,500.55 L299.00,500.45 L299.50,501.11 L300.00,503.62 L300.50,505.81 L301.00,507.70 L301.50,509.31 L302.00,510.67 L302.50,511.81 L303.00,512.76 L303.50,513.53 L304.00,514.16 L304.50,514.67 L305.00,515.07 L305.50,515.39 L306.00,515.64 L306.50,515.83 L307.00,515.98 L307.50,516.09 L308.00,516.17 L308.50,516.24 L309.00,516.28 L309.00,516.40Z" fill="#bb3a26" stroke="none"/>
<path d="M283.00,516.40 L283.00,516.40 L283.50,516.23 L284.00,516.02 L284.50,515.62 L285.00,514.90 L285.50,514.24 L286.00,513.42 L286.50,512.48 L287.00,511.49 L287.50,510.49 L288.00,509.53 L288.50,508.73 L289.00,508.05 L289.50,507.37 L290.00,506.68 L290.50,506.02 L291.00,505.38 L291.50,504.77 L292.00,504.21 L292.50,503.70 L293.00,503.25 L293.50,502.84 L294.00,502.47 L294.50,502.14 L295.00,501.84 L295.50,501.57 L296.00,501.32 L296.50,501.09 L297.00,500.91 L297.50,500.78 L298.00,500.66 L298.50,500.55 L299.00,500.45 L299.50,501.11 L300.00,503.62 L300.50,505.81 L301.00,507.70 L301.50,509.31 L302.00,510.67 L302.50,511.81 L303.00,512.76 L303.50,513.53 L304.00,514.16 L304.50,514.67 L305.00,515.07 L305.50,515.39 L306.00,515.64 L306.50,515.83 L307.00,515.98 L307.50,516.09 L308.00,516.17 L308.50,516.24 L309.00,516.28 L309.00,516.40Z" fill="url(#hatch2)" stroke="none" opacity="0.5"/>
<path d="M300.00,516.40 L300.00,516.13 L300.50,516.08 L301.00,516.03 L301.50,515.98 L302.00,515.92 L302.50,515.85 L303.00,515.77 L303.50,515.68 L304.00,515.59 L304.50,515.48 L305.00,515.36 L305.50,515.22 L306.00,515.07 L306.50,514.91 L307.00,514.73 L307.50,514.53 L308.00,514.31 L308.50,514.07 L309.00,513.81 L309.50,513.53 L310.00,513.23 L310.50,512.90 L311.00,512.54 L311.50,512.16 L312.00,511.75 L312.50,511.31 L313.00,510.84 L313.50,510.34 L314.00,509.81 L314.50,509.26 L315.00,508.67 L315.50,508.05 L316.00,507.41 L316.50,506.73 L317.00,506.03 L317.50,505.30 L318.00,504.55 L318.50,503.78 L319.00,502.98 L319.50,502.45 L320.00,502.60 L320.50,502.81 L321.00,503.03 L321.50,503.26 L322.00,503.50 L322.50,503.74 L323.00,503.99 L323.50,504.24 L324.00,504.50 L324.50,504.77 L325.00,505.05 L325.50,505.33 L326.00,505.62 L326.50,505.92 L327.00,506.22 L327.50,506.54 L328.00,506.87 L328.50,507.20 L329.00,507.54 L329.50,507.89 L330.00,508.24 L330.50,508.59 L331.00,508.94 L331.50,509.28 L332.00,509.63 L332.50,509.97 L333.00,510.30 L333.50,510.65 L334.00,511.01 L334.50,511.37 L335.00,511.73 L335.50,512.09 L336.00,512.44 L336.50,512.79 L337.00,513.13 L337.50,513.45 L338.00,513.75 L338.50,514.04 L339.00,514.30 L339.50,514.60 L340.00,514.89 L340.50,515.15 L341.00,515.39 L341.50,515.61 L342.00,515.81 L342.50,515.99 L343.00,516.15 L343.50,516.28 L344.00,516.40 L344.00,516.40Z" fill="#bb3a26" stroke="none"/>
<path d="M300.00,516.40 L300.00,516.13 L300.50,516.08 L301.00,516.03 L301.50,515.98 L302.00,515.92 L302.50,515.85 L303.00,515.77 L303.50,515.68 L304.00,515.59 L304.50,515.48 L305.00,515.36 L305.50,515.22 L306.00,515.07 L306.50,514.91 L307.00,514.73 L307.50,514.53 L308.00,514.31 L308.50,514.07 L309.00,513.81 L309.50,513.53 L310.00,513.23 L310.50,512.90 L311.00,512.54 L311.50,512.16 L312.00,511.75 L312.50,511.31 L313.00,510.84 L313.50,510.34 L314.00,509.81 L314.50,509.26 L315.00,508.67 L315.50,508.05 L316.00,507.41 L316.50,506.73 L317.00,506.03 L317.50,505.30 L318.00,504.55 L318.50,503.78 L319.00,502.98 L319.50,502.45 L320.00,502.60 L320.50,502.81 L321.00,503.03 L321.50,503.26 L322.00,503.50 L322.50,503.74 L323.00,503.99 L323.50,504.24 L324.00,504.50 L324.50,504.77 L325.00,505.05 L325.50,505.33 L326.00,505.62 L326.50,505.92 L327.00,506.22 L327.50,506.54 L328.00,506.87 L328.50,507.20 L329.00,507.54 L329.50,507.89 L330.00,508.24 L330.50,508.59 L331.00,508.94 L331.50,509.28 L332.00,509.63 L332.50,509.97 L333.00,510.30 L333.50,510.65 L334.00,511.01 L334.50,511.37 L335.00,511.73 L335.50,512.09 L336.00,512.44 L336.50,512.79 L337.00,513.13 L337.50,513.45 L338.00,513.75 L338.50,514.04 L339.00,514.30 L339.50,514.60 L340.00,514.89 L340.50,515.15 L341.00,515.39 L341.50,515.61 L342.00,515.81 L342.50,515.99 L343.00,516.15 L343.50,516.28 L344.00,516.40 L344.00,516.40Z" fill="url(#hatch2)" stroke="none" opacity="0.5"/>
<path d="M283.00,516.40 L283.50,516.23 L284.00,516.02 L284.50,515.62 L285.00,514.90 L285.50,514.24 L286.00,513.42 L286.50,512.48 L287.00,511.49 L287.50,510.49 L288.00,509.53 L288.50,508.73 L289.00,508.05 L289.50,507.37 L290.00,506.68 L290.50,506.02 L291.00,505.38 L291.50,504.77 L292.00,504.21 L292.50,503.70 L293.00,503.25 L293.50,502.84 L294.00,502.47 L294.50,502.14 L295.00,501.84 L295.50,501.57 L296.00,501.32 L296.50,501.09 L297.00,500.91 L297.50,500.78 L298.00,500.66 L298.50,500.55 L299.00,500.45 L299.50,500.36 L300.00,500.28 L300.50,500.21 L301.00,500.15 L301.50,500.10 L302.00,500.06 L302.50,500.02 L303.00,500.00 L303.50,499.99 L304.00,499.98 L304.50,499.98 L305.00,499.98 L305.50,499.99 L306.00,500.00 L306.50,500.02 L307.00,500.04 L307.50,500.07 L308.00,500.11 L308.50,500.14 L309.00,500.19 L309.50,500.24 L310.00,500.30 L310.50,500.36 L311.00,500.43 L311.50,500.50 L312.00,500.58 L312.50,500.67 L313.00,500.76 L313.50,500.86 L314.00,500.97 L314.50,501.08 L315.00,501.20 L315.50,501.32 L316.00,501.45 L316.50,501.58 L317.00,501.71 L317.50,501.85 L318.00,502.00 L318.50,502.14 L319.00,502.29 L319.50,502.45 L320.00,502.60 L320.50,502.81 L321.00,503.03 L321.50,503.26 L322.00,503.50 L322.50,503.74 L323.00,503.99 L323.50,504.24 L324.00,504.50 L324.50,504.77 L325.00,505.05 L325.50,505.33 L326.00,505.62 L326.50,505.92 L327.00,506.22 L327.50,506.54 L328.00,506.87 L328.50,507.20 L329.00,507.54 L329.50,507.89 L330.00,508.24 L330.50,508.59 L331.00,508.94 L331.50,509.28 L332.00,509.63 L332.50,509.97 L333.00,510.30 L333.50,510.65 L334.00,511.01 L334.50,511.37 L335.00,511.73 L335.50,512.09 L336.00,512.44 L336.50,512.79 L337.00,513.13 L337.50,513.45 L338.00,513.75 L338.50,514.04 L339.00,514.30 L339.50,514.60 L340.00,514.89 L340.50,515.15 L341.00,515.39 L341.50,515.61 L342.00,515.81 L342.50,515.99 L343.00,516.15 L343.50,516.28 L344.00,516.40" fill="none" stroke="#333" stroke-width="0.6"/>
<path d="M268.00,516.36 L268.50,516.35 L269.00,516.32 L269.50,516.29 L270.00,516.25 L270.50,516.19 L271.00,516.11 L271.50,516.00 L272.00,515.86 L272.50,515.68 L273.00,515.44 L273.50,515.14 L274.00,514.76 L274.50,514.27 L275.00,513.67 L275.50,512.93 L276.00,512.02 L276.50,510.92 L277.00,509.60 L277.50,508.04 L278.00,506.21 L278.50,504.08 L279.00,501.64 L279.50,498.87 L280.00,495.75 L280.50,492.28 L281.00,488.47 L281.50,484.34 L282.00,479.91 L282.50,475.22 L283.00,470.32 L283.50,465.12 L284.00,459.80 L284.50,454.32 L285.00,448.62 L285.50,443.20 L286.00,437.91 L286.50,432.93 L287.00,428.38 L287.50,424.40 L288.00,421.13 L288.50,418.72 L289.00,417.19 L289.50,416.42 L290.00,416.44 L290.50,417.23 L291.00,418.76 L291.50,421.00 L292.00,423.88 L292.50,427.33 L293.00,431.26 L293.50,435.56 L294.00,440.13 L294.50,444.86 L295.00,449.66 L295.50,454.43 L296.00,459.10 L296.50,463.58 L297.00,467.88 L297.50,471.92 L298.00,475.65 L298.50,479.05 L299.00,482.11 L299.50,484.83 L300.00,487.22 L300.50,489.30 L301.00,491.08 L301.50,492.59 L302.00,493.85 L302.50,494.89 L303.00,495.73 L303.50,496.40 L304.00,496.93 L304.50,497.32 L305.00,497.61 L305.50,497.80 L306.00,497.91 L306.50,497.96 L307.00,497.95 L307.50,497.89 L308.00,497.79 L308.50,497.65 L309.00,497.49 L309.50,497.29 L310.00,497.06 L310.50,496.81 L311.00,496.54 L311.50,496.24 L312.00,495.91 L312.50,495.57 L313.00,495.19 L313.50,494.80 L314.00,494.38 L314.50,493.93 L315.00,493.47 L315.50,492.97 L316.00,492.45 L316.50,491.91 L317.00,491.34 L317.50,490.76 L318.00,490.15 L318.50,489.52 L319.00,488.87 L319.50,488.21 L320.00,487.53 L320.50,486.90 L321.00,486.27 L321.50,485.64 L322.00,485.01 L322.50,484.39 L323.00,483.78 L323.50,483.18 L324.00,482.61 L324.50,482.06 L325.00,481.54 L325.50,481.05 L326.00,480.60 L326.50,480.19 L327.00,479.83 L327.50,479.52 L328.00,479.27 L328.50,479.08 L329.00,478.94 L329.50,478.87 L330.00,478.86 L330.50,478.92 L331.00,479.04 L331.50,479.22 L332.00,479.46 L332.50,479.77 L333.00,480.14 L333.50,480.59 L334.00,481.11 L334.50,481.70 L335.00,482.36 L335.50,483.07 L336.00,483.85 L336.50,484.67 L337.00,485.53 L337.50,486.43 L338.00,487.36 L338.50,488.31 L339.00,489.28 L339.50,490.32 L340.00,491.38 L340.50,492.44 L341.00,493.50 L341.50,494.55 L342.00,495.60 L342.50,496.64 L343.00,497.66 L343.50,498.66 L344.00,499.63 L344.50,500.49 L345.00,501.33 L345.50,502.16 L346.00,502.98 L346.50,503.78 L347.00,504.55 L347.50,505.30 L348.00,506.03 L348.50,506.73 L349.00,507.41 L349.50,508.05 L350.00,508.67 L350.50,509.26 L351.00,509.81 L351.50,510.34 L352.00,510.84 L352.50,511.31 L353.00,511.75 L353.50,512.16 L354.00,512.54 L354.50,512.90 L355.00,513.23 L355.50,513.53 L356.00,513.81 L356.50,514.07 L357.00,514.31 L357.50,514.53 L358.00,514.73 L358.50,514.91 L359.00,515.07 L359.50,515.22 L360.00,515.36 L360.50,515.48 L361.00,515.59 L361.50,515.68 L362.00,515.77 L362.50,515.85 L363.00,515.92 L363.50,515.98 L364.00,516.03 L364.50,516.08 L365.00,516.13 L365.50,516.16 L366.00,516.20 L366.50,516.22 L367.00,516.25 L367.50,516.27 L368.00,516.29" fill="none" stroke="#2a2a2a" stroke-width="0.9"/>
<line x1="241.20" y1="516.40" x2="399.23" y2="516.40" stroke="#222" stroke-width="1.1" />
<line x1="246.80" y1="516.40" x2="246.80" y2="521.40" stroke="#222" stroke-width="1.0" />
<line x1="251.49" y1="516.40" x2="251.49" y2="519.40" stroke="#222" stroke-width="0.8" />
<line x1="256.18" y1="516.40" x2="256.18" y2="519.40" stroke="#222" stroke-width="0.8" />
<line x1="260.87" y1="516.40" x2="260.87" y2="519.40" stroke="#222" stroke-width="0.8" />
<line x1="265.56" y1="516.40" x2="265.56" y2="519.40" stroke="#222" stroke-width="0.8" />
<line x1="270.25" y1="516.40" x2="270.25" y2="521.40" stroke="#222" stroke-width="1.0" />
<line x1="274.94" y1="516.40" x2="274.94" y2="519.40" stroke="#222" stroke-width="0.8" />
<line x1="279.63" y1="516.40" x2="279.63" y2="519.40" stroke="#222" stroke-width="0.8" />
<line x1="284.32" y1="516.40" x2="284.32" y2="519.40" stroke="#222" stroke-width="0.8" />
<line x1="289.01" y1="516.40" x2="289.01" y2="519.40" stroke="#222" stroke-width="0.8" />
<line x1="293.70" y1="516.40" x2="293.70" y2="521.40" stroke="#222" stroke-width="1.0" />
<line x1="298.39" y1="516.40" x2="298.39" y2="519.40" stroke="#222" stroke-width="0.8" />
<line x1="303.08" y1="516.40" x2="303.08" y2="519.40" stroke="#222" stroke-width="0.8" />
<line x1="307.77" y1="516.40" x2="307.77" y2="519.40" stroke="#222" stroke-width="0.8" />
<line x1="312.46" y1="516.40" x2="312.46" y2="519.40" stroke="#222" stroke-width="0.8" />
<line x1="317.15" y1="516.40" x2="317.15" y2="521.40" stroke="#222" stroke-width="1.0" />
<line x1="321.84" y1="516.40" x2="321.84" y2="519.40" stroke="#222" stroke-width="0.8" />
<line x1="326.53" y1="516.40" x2="326.53" y2="519.40" stroke="#222" stroke-width="0.8" />
<line x1="331.22" y1="516.40" x2="331.22" y2="519.40" stroke="#222" stroke-width="0.8" />
<line x1="335.91" y1="516.40" x2="335.91" y2="519.40" stroke="#222" stroke-width="0.8" />
<line x1="340.60" y1="516.40" x2="340.60" y2="521.40" stroke="#222" stroke-width="1.0" />
<line x1="345.29" y1="516.40" x2="345.29" y2="519.40" stroke="#222" stroke-width="0.8" />
<line x1="349.98" y1="516.40" x2="349.98" y2="519.40" stroke="#222" stroke-width="0.8" />
<line x1="354.67" y1="516.40" x2="354.67" y2="519.40" stroke="#222" stroke-width="0.8" />
<line x1="359.36" y1="516.40" x2="359.36" y2="519.40" stroke="#222" stroke-width="0.8" />
<line x1="364.05" y1="516.40" x2="364.05" y2="521.40" stroke="#222" stroke-width="1.0" />
<line x1="368.74" y1="516.40" x2="368.74" y2="519.40" stroke="#222" stroke-width="0.8" />
<line x1="373.43" y1="516.40" x2="373.43" y2="519.40" stroke="#222" stroke-width="0.8" />
<line x1="378.12" y1="516.40" x2="378.12" y2="519.40" stroke="#222" stroke-width="0.8" />
<line x1="382.81" y1="516.40" x2="382.81" y2="519.40" stroke="#222" stroke-width="0.8" />
<line x1="387.50" y1="516.40" x2="387.50" y2="521.40" stroke="#222" stroke-width="1.0" />
<line x1="392.19" y1="516.40" x2="392.19" y2="519.40" stroke="#222" stroke-width="0.8" />
<line x1="396.88" y1="516.40" x2="396.88" y2="519.40" stroke="#222" stroke-width="0.8" />
<text x="247.30" y="529.80" font-size="8.0" text-anchor="middle" fill="#1a1a1a" textLength="4.05" lengthAdjust="spacingAndGlyphs" >0</text>
<text x="270.75" y="529.80" font-size="8.0" text-anchor="middle" fill="#1a1a1a" textLength="16.20" lengthAdjust="spacingAndGlyphs" >1000</text>
<text x="294.20" y="529.80" font-size="8.0" text-anchor="middle" fill="#1a1a1a" textLength="16.20" lengthAdjust="spacingAndGlyphs" >2000</text>
<text x="317.65" y="529.80" font-size="8.0" text-anchor="middle" fill="#1a1a1a" textLength="16.20" lengthAdjust="spacingAndGlyphs" >3000</text>
<text x="341.10" y="529.80" font-size="8.0" text-anchor="middle" fill="#1a1a1a" textLength="16.20" lengthAdjust="spacingAndGlyphs" >4000</text>
<text x="364.55" y="529.80" font-size="8.0" text-anchor="middle" fill="#1a1a1a" textLength="16.20" lengthAdjust="spacingAndGlyphs" >5000</text>
<text x="388.00" y="529.80" font-size="8.0" text-anchor="middle" fill="#1a1a1a" textLength="16.20" lengthAdjust="spacingAndGlyphs" >6000</text>
<text x="335.00" y="381.50" font-size="10.7" text-anchor="middle" fill="#222" >HL60 +BCT (600ng/mL)</text>
<text x="-0.40" y="556.30" font-size="17.5" text-anchor="start" fill="#000" font-weight="bold" >D</text>
<text x="146.45" y="556.50" font-size="10.55" text-anchor="middle" fill="#333" >Untreated</text>
<text x="286.30" y="556.50" font-size="10.55" text-anchor="middle" fill="#333" >+BCT (600ng/mL)</text>
<rect x="81.2" y="558.9" width="126.6" height="2.6" fill="#111"/>
<rect x="217.0" y="558.9" width="125.1" height="2.6" fill="#111"/>
<line x1="29.80" y1="564.80" x2="29.80" y2="712.20" stroke="#111" stroke-width="1.25" />
<line x1="75.50" y1="564.80" x2="75.50" y2="712.20" stroke="#111" stroke-width="1.25" />
<line x1="120.60" y1="564.80" x2="120.60" y2="712.20" stroke="#111" stroke-width="1.25" />
<line x1="165.90" y1="564.80" x2="165.90" y2="712.20" stroke="#111" stroke-width="1.25" />
<line x1="211.90" y1="564.80" x2="211.90" y2="712.20" stroke="#111" stroke-width="1.25" />
<line x1="256.90" y1="564.80" x2="256.90" y2="712.20" stroke="#111" stroke-width="1.25" />
<line x1="301.50" y1="564.80" x2="301.50" y2="712.20" stroke="#111" stroke-width="1.25" />
<line x1="347.30" y1="564.80" x2="347.30" y2="712.20" stroke="#111" stroke-width="1.25" />
<line x1="29.80" y1="565.40" x2="347.30" y2="565.40" stroke="#111" stroke-width="1.25" />
<line x1="29.80" y1="593.90" x2="347.30" y2="593.90" stroke="#111" stroke-width="1.25" />
<line x1="29.80" y1="623.60" x2="347.30" y2="623.60" stroke="#111" stroke-width="1.25" />
<line x1="29.80" y1="653.20" x2="347.30" y2="653.20" stroke="#111" stroke-width="1.25" />
<line x1="29.80" y1="682.50" x2="347.30" y2="682.50" stroke="#111" stroke-width="1.25" />
<line x1="29.80" y1="711.60" x2="347.30" y2="711.60" stroke="#111" stroke-width="1.25" />
<text x="96.95" y="579.00" font-size="11.0" text-anchor="middle" fill="#111" font-weight="bold" textLength="12.60" lengthAdjust="spacingAndGlyphs" >G0</text>
<text x="140.75" y="579.00" font-size="11.0" text-anchor="middle" fill="#111" font-weight="bold" textLength="5.20" lengthAdjust="spacingAndGlyphs" >S</text>
<text x="189.50" y="579.00" font-size="11.0" text-anchor="middle" fill="#111" font-weight="bold" textLength="26.90" lengthAdjust="spacingAndGlyphs" >G2/M</text>
<text x="232.50" y="579.00" font-size="11.0" text-anchor="middle" fill="#111" font-weight="bold" textLength="12.60" lengthAdjust="spacingAndGlyphs" >G0</text>
<text x="276.70" y="579.00" font-size="11.0" text-anchor="middle" fill="#111" font-weight="bold" textLength="5.20" lengthAdjust="spacingAndGlyphs" >S</text>
<text x="327.30" y="579.00" font-size="11.0" text-anchor="middle" fill="#111" font-weight="bold" textLength="26.90" lengthAdjust="spacingAndGlyphs" >G2/M</text>
<text x="50.55" y="607.50" font-size="10.6" text-anchor="middle" fill="#111" font-weight="bold" textLength="22.40" lengthAdjust="spacingAndGlyphs" >HL60</text>
<text x="96.55" y="607.50" font-size="11.2" text-anchor="middle" fill="#222" textLength="25.01" lengthAdjust="spacingAndGlyphs" >23.88</text>
<text x="141.75" y="607.50" font-size="11.2" text-anchor="middle" fill="#222" textLength="25.01" lengthAdjust="spacingAndGlyphs" >38.63</text>
<text x="187.40" y="607.50" font-size="11.2" text-anchor="middle" fill="#222" textLength="25.01" lengthAdjust="spacingAndGlyphs" >37.49</text>
<text x="232.90" y="607.50" font-size="11.2" text-anchor="middle" fill="#222" textLength="25.01" lengthAdjust="spacingAndGlyphs" >43.59</text>
<text x="277.70" y="607.50" font-size="11.2" text-anchor="middle" fill="#222" textLength="25.01" lengthAdjust="spacingAndGlyphs" >27.47</text>
<text x="322.90" y="607.50" font-size="11.2" text-anchor="middle" fill="#222" textLength="25.01" lengthAdjust="spacingAndGlyphs" >28.03</text>
<text x="50.55" y="637.20" font-size="10.6" text-anchor="middle" fill="#111" font-weight="bold" textLength="23.60" lengthAdjust="spacingAndGlyphs" >U937</text>
<text x="96.55" y="637.20" font-size="11.2" text-anchor="middle" fill="#222" textLength="25.01" lengthAdjust="spacingAndGlyphs" >46.10</text>
<text x="141.75" y="637.20" font-size="11.2" text-anchor="middle" fill="#222" textLength="25.01" lengthAdjust="spacingAndGlyphs" >49.03</text>
<text x="188.40" y="637.20" font-size="11.2" text-anchor="middle" fill="#222" textLength="19.45" lengthAdjust="spacingAndGlyphs" >4.87</text>
<text x="232.90" y="637.20" font-size="11.2" text-anchor="middle" fill="#222" textLength="25.01" lengthAdjust="spacingAndGlyphs" >59.09</text>
<text x="276.50" y="637.20" font-size="11.2" text-anchor="middle" fill="#222" >0</text>
<text x="322.90" y="637.20" font-size="11.2" text-anchor="middle" fill="#222" textLength="25.01" lengthAdjust="spacingAndGlyphs" >40.91</text>
<text x="50.55" y="666.10" font-size="10.6" text-anchor="middle" fill="#111" font-weight="bold" textLength="22.60" lengthAdjust="spacingAndGlyphs" >K562</text>
<text x="97.55" y="666.10" font-size="11.2" text-anchor="middle" fill="#222" textLength="19.45" lengthAdjust="spacingAndGlyphs" >1.80</text>
<text x="140.55" y="666.10" font-size="11.2" text-anchor="middle" fill="#222" >0</text>
<text x="187.40" y="666.10" font-size="11.2" text-anchor="middle" fill="#222" textLength="25.01" lengthAdjust="spacingAndGlyphs" >98.20</text>
<text x="232.90" y="666.10" font-size="11.2" text-anchor="middle" fill="#222" textLength="25.01" lengthAdjust="spacingAndGlyphs" >67.52</text>
<text x="276.50" y="666.10" font-size="11.2" text-anchor="middle" fill="#222" >0</text>
<text x="322.90" y="666.10" font-size="11.2" text-anchor="middle" fill="#222" textLength="25.01" lengthAdjust="spacingAndGlyphs" >32.42</text>
<text x="50.55" y="695.50" font-size="10.6" text-anchor="middle" fill="#111" font-weight="bold" textLength="27.80" lengthAdjust="spacingAndGlyphs" >KGIA8</text>
<text x="96.55" y="695.50" font-size="11.2" text-anchor="middle" fill="#222" textLength="25.01" lengthAdjust="spacingAndGlyphs" >55.76</text>
<text x="141.75" y="695.50" font-size="11.2" text-anchor="middle" fill="#222" textLength="25.01" lengthAdjust="spacingAndGlyphs" >39.46</text>
<text x="188.40" y="695.50" font-size="11.2" text-anchor="middle" fill="#222" textLength="19.45" lengthAdjust="spacingAndGlyphs" >4.78</text>
<text x="232.90" y="695.50" font-size="11.2" text-anchor="middle" fill="#222" textLength="25.01" lengthAdjust="spacingAndGlyphs" >81.53</text>
<text x="278.70" y="695.50" font-size="11.2" text-anchor="middle" fill="#222" textLength="19.45" lengthAdjust="spacingAndGlyphs" >4.79</text>
<text x="322.90" y="695.50" font-size="11.2" text-anchor="middle" fill="#222" textLength="25.01" lengthAdjust="spacingAndGlyphs" >13.69</text>
</svg>
</body></html>
